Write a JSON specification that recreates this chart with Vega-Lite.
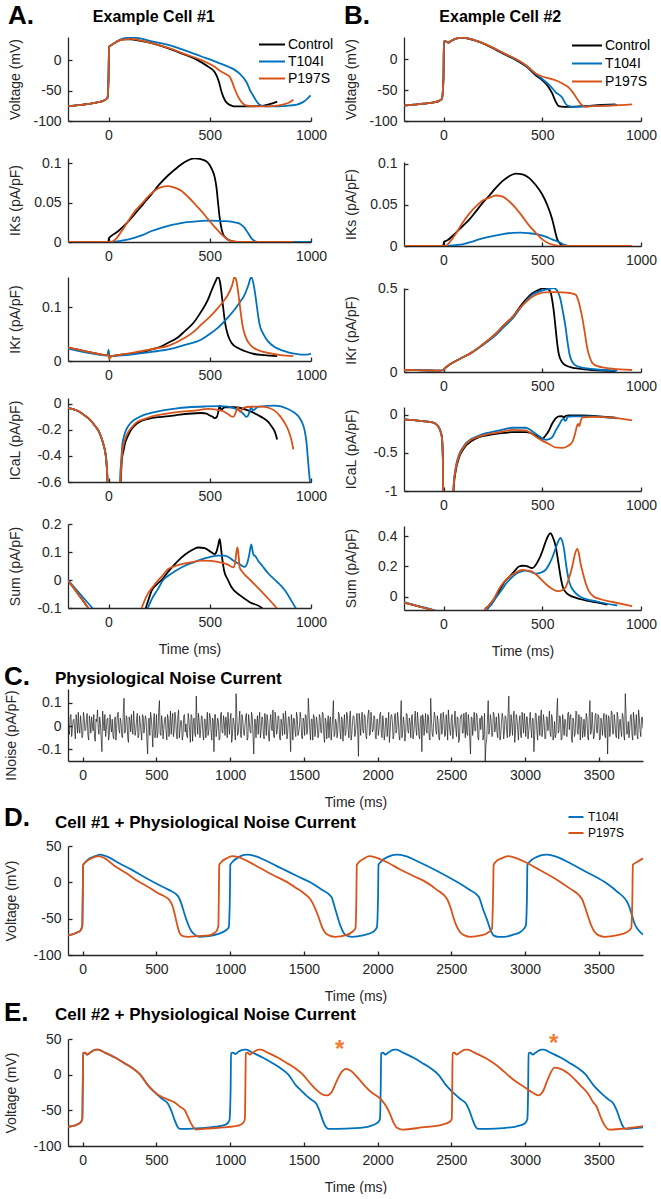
{
"$schema": "https://vega.github.io/schema/vega-lite/v6.json",
"padding": {"left": 4, "top": 3, "right": 4, "bottom": 0},
"config": {
  "font": "Liberation Sans",
  "view": {"stroke": null},
  "axis": {"grid": false, "domainColor": "#262626", "domainWidth": 1.3, "tickColor": "#262626", "tickWidth": 1.3, "tickSize": -4, "labelPadding": 11, "titlePadding": 13, "labelOverlap": false, "labelColor": "#262626", "labelFontSize": 14, "titleColor": "#262626", "titleFontSize": 14, "titleFontWeight": "normal"},
  "axisX": {"labelFlush": false},
  "title": {"color": "#000000", "fontWeight": "bold"},
  "legend": {"labelColor": "#000000", "labelFontSize": 14, "padding": 0}
},
"datasets": {
"a1": [
{"s":"Control","t":-200,"v":-76},{"s":"Control","t":-150,"v":-74},{"s":"Control","t":-100,"v":-72},{"s":"Control","t":-50,"v":-69},{"s":"Control","t":-20,"v":-66},{"s":"Control","t":-5,"v":-62},{"s":"Control","t":0,"v":-30},{"s":"Control","t":3,"v":22},{"s":"Control","t":10,"v":24},{"s":"Control","t":20,"v":26},{"s":"Control","t":30,"v":28},{"s":"Control","t":50,"v":32},{"s":"Control","t":80,"v":34},{"s":"Control","t":110,"v":34},{"s":"Control","t":150,"v":32},{"s":"Control","t":213,"v":28},{"s":"Control","t":300,"v":19},{"s":"Control","t":377,"v":9},{"s":"Control","t":440,"v":0},{"s":"Control","t":493,"v":-11},{"s":"Control","t":525,"v":-20},{"s":"Control","t":545,"v":-35},{"s":"Control","t":558,"v":-52},{"s":"Control","t":575,"v":-66},{"s":"Control","t":591,"v":-72},{"s":"Control","t":610,"v":-75},{"s":"Control","t":624,"v":-76},{"s":"Control","t":700,"v":-76},{"s":"Control","t":760,"v":-75},{"s":"Control","t":800,"v":-72},{"s":"Control","t":833,"v":-68},
{"s":"T104I","t":-200,"v":-76},{"s":"T104I","t":-150,"v":-74},{"s":"T104I","t":-100,"v":-72},{"s":"T104I","t":-50,"v":-69},{"s":"T104I","t":-20,"v":-66},{"s":"T104I","t":-5,"v":-62},{"s":"T104I","t":0,"v":-30},{"s":"T104I","t":3,"v":22},{"s":"T104I","t":10,"v":24},{"s":"T104I","t":20,"v":26},{"s":"T104I","t":30,"v":28},{"s":"T104I","t":50,"v":32},{"s":"T104I","t":80,"v":36},{"s":"T104I","t":110,"v":37},{"s":"T104I","t":150,"v":36},{"s":"T104I","t":213,"v":31},{"s":"T104I","t":295,"v":25},{"s":"T104I","t":377,"v":16},{"s":"T104I","t":459,"v":6},{"s":"T104I","t":540,"v":-4},{"s":"T104I","t":600,"v":-12},{"s":"T104I","t":623,"v":-16},{"s":"T104I","t":650,"v":-23},{"s":"T104I","t":681,"v":-36},{"s":"T104I","t":700,"v":-50},{"s":"T104I","t":714,"v":-58},{"s":"T104I","t":730,"v":-67},{"s":"T104I","t":745,"v":-73},{"s":"T104I","t":770,"v":-76},{"s":"T104I","t":800,"v":-76},{"s":"T104I","t":880,"v":-75},{"s":"T104I","t":930,"v":-73},{"s":"T104I","t":960,"v":-69},{"s":"T104I","t":980,"v":-64},{"s":"T104I","t":998,"v":-58},
{"s":"P197S","t":-200,"v":-76},{"s":"P197S","t":-150,"v":-74},{"s":"P197S","t":-100,"v":-72},{"s":"P197S","t":-50,"v":-69},{"s":"P197S","t":-20,"v":-66},{"s":"P197S","t":-5,"v":-62},{"s":"P197S","t":0,"v":-30},{"s":"P197S","t":3,"v":22},{"s":"P197S","t":10,"v":24},{"s":"P197S","t":20,"v":26},{"s":"P197S","t":30,"v":28},{"s":"P197S","t":50,"v":32},{"s":"P197S","t":80,"v":34},{"s":"P197S","t":110,"v":35},{"s":"P197S","t":150,"v":33},{"s":"P197S","t":213,"v":28},{"s":"P197S","t":295,"v":20},{"s":"P197S","t":377,"v":10},{"s":"P197S","t":459,"v":0},{"s":"P197S","t":520,"v":-10},{"s":"P197S","t":558,"v":-19},{"s":"P197S","t":585,"v":-24},{"s":"P197S","t":600,"v":-28},{"s":"P197S","t":612,"v":-37},{"s":"P197S","t":623,"v":-47},{"s":"P197S","t":640,"v":-60},{"s":"P197S","t":657,"v":-69},{"s":"P197S","t":675,"v":-74},{"s":"P197S","t":690,"v":-75},{"s":"P197S","t":750,"v":-76},{"s":"P197S","t":820,"v":-75},{"s":"P197S","t":860,"v":-73},{"s":"P197S","t":890,"v":-70},{"s":"P197S","t":913,"v":-65}
],
"a2": [
{"s":"Control","t":-200,"v":0},{"s":"Control","t":-1,"v":0},{"s":"Control","t":2,"v":0.005},{"s":"Control","t":10,"v":0.007},{"s":"Control","t":49,"v":0.014},{"s":"Control","t":90,"v":0.024},{"s":"Control","t":131,"v":0.036},{"s":"Control","t":170,"v":0.048},{"s":"Control","t":213,"v":0.061},{"s":"Control","t":250,"v":0.073},{"s":"Control","t":295,"v":0.085},{"s":"Control","t":340,"v":0.095},{"s":"Control","t":377,"v":0.102},{"s":"Control","t":426,"v":0.1065},{"s":"Control","t":475,"v":0.104},{"s":"Control","t":508,"v":0.094},{"s":"Control","t":525,"v":0.082},{"s":"Control","t":533,"v":0.07},{"s":"Control","t":541,"v":0.05},{"s":"Control","t":549,"v":0.031},{"s":"Control","t":558,"v":0.017},{"s":"Control","t":566,"v":0.0098},{"s":"Control","t":580,"v":0.005},{"s":"Control","t":598,"v":0.002},{"s":"Control","t":620,"v":0.0005},{"s":"Control","t":650,"v":0},{"s":"Control","t":833,"v":0},
{"s":"T104I","t":-200,"v":0},{"s":"T104I","t":20,"v":0},{"s":"T104I","t":60,"v":0.0015},{"s":"T104I","t":131,"v":0.0056},{"s":"T104I","t":170,"v":0.009},{"s":"T104I","t":213,"v":0.014},{"s":"T104I","t":250,"v":0.017},{"s":"T104I","t":295,"v":0.0206},{"s":"T104I","t":340,"v":0.023},{"s":"T104I","t":377,"v":0.0249},{"s":"T104I","t":420,"v":0.026},{"s":"T104I","t":459,"v":0.027},{"s":"T104I","t":500,"v":0.0272},{"s":"T104I","t":541,"v":0.027},{"s":"T104I","t":580,"v":0.0265},{"s":"T104I","t":623,"v":0.025},{"s":"T104I","t":650,"v":0.023},{"s":"T104I","t":672,"v":0.018},{"s":"T104I","t":690,"v":0.011},{"s":"T104I","t":705,"v":0.005},{"s":"T104I","t":720,"v":0.0015},{"s":"T104I","t":735,"v":0},{"s":"T104I","t":1000,"v":0},
{"s":"P197S","t":-200,"v":0},{"s":"P197S","t":10,"v":0},{"s":"P197S","t":33,"v":0.003},{"s":"P197S","t":60,"v":0.012},{"s":"P197S","t":98,"v":0.027},{"s":"P197S","t":130,"v":0.039},{"s":"P197S","t":164,"v":0.0486},{"s":"P197S","t":200,"v":0.059},{"s":"P197S","t":229,"v":0.0657},{"s":"P197S","t":260,"v":0.0698},{"s":"P197S","t":295,"v":0.0713},{"s":"P197S","t":330,"v":0.069},{"s":"P197S","t":361,"v":0.065},{"s":"P197S","t":395,"v":0.057},{"s":"P197S","t":426,"v":0.0486},{"s":"P197S","t":460,"v":0.039},{"s":"P197S","t":492,"v":0.029},{"s":"P197S","t":525,"v":0.019},{"s":"P197S","t":558,"v":0.0099},{"s":"P197S","t":585,"v":0.004},{"s":"P197S","t":607,"v":0.001},{"s":"P197S","t":640,"v":0},{"s":"P197S","t":913,"v":0}
],
"a3": [
{"s":"Control","t":-200,"v":0.025},{"s":"Control","t":-150,"v":0.021},{"s":"Control","t":-100,"v":0.017},{"s":"Control","t":-50,"v":0.013},{"s":"Control","t":-10,"v":0.011},{"s":"Control","t":-2,"v":0.011},{"s":"Control","t":0,"v":0.018},{"s":"Control","t":3,"v":0.006},{"s":"Control","t":10,"v":0.008},{"s":"Control","t":50,"v":0.011},{"s":"Control","t":100,"v":0.013},{"s":"Control","t":131,"v":0.015},{"s":"Control","t":180,"v":0.018},{"s":"Control","t":213,"v":0.0215},{"s":"Control","t":260,"v":0.027},{"s":"Control","t":295,"v":0.034},{"s":"Control","t":340,"v":0.043},{"s":"Control","t":377,"v":0.0555},{"s":"Control","t":420,"v":0.071},{"s":"Control","t":459,"v":0.0926},{"s":"Control","t":490,"v":0.113},{"s":"Control","t":508,"v":0.13},{"s":"Control","t":525,"v":0.145},{"s":"Control","t":541,"v":0.156},{"s":"Control","t":550,"v":0.148},{"s":"Control","t":557,"v":0.13},{"s":"Control","t":566,"v":0.1},{"s":"Control","t":577,"v":0.068},{"s":"Control","t":590,"v":0.048},{"s":"Control","t":607,"v":0.034},{"s":"Control","t":640,"v":0.024},{"s":"Control","t":672,"v":0.0185},{"s":"Control","t":720,"v":0.013},{"s":"Control","t":770,"v":0.011},{"s":"Control","t":833,"v":0.009},
{"s":"T104I","t":-200,"v":0.023},{"s":"T104I","t":-150,"v":0.019},{"s":"T104I","t":-100,"v":0.015},{"s":"T104I","t":-50,"v":0.012},{"s":"T104I","t":-10,"v":0.01},{"s":"T104I","t":-2,"v":0.01},{"s":"T104I","t":0,"v":0.021},{"s":"T104I","t":3,"v":0.008},{"s":"T104I","t":10,"v":0.009},{"s":"T104I","t":50,"v":0.01},{"s":"T104I","t":131,"v":0.013},{"s":"T104I","t":213,"v":0.017},{"s":"T104I","t":295,"v":0.0215},{"s":"T104I","t":377,"v":0.03},{"s":"T104I","t":459,"v":0.04},{"s":"T104I","t":500,"v":0.05},{"s":"T104I","t":541,"v":0.062},{"s":"T104I","t":580,"v":0.077},{"s":"T104I","t":623,"v":0.0956},{"s":"T104I","t":650,"v":0.11},{"s":"T104I","t":672,"v":0.123},{"s":"T104I","t":690,"v":0.14},{"s":"T104I","t":705,"v":0.156},{"s":"T104I","t":715,"v":0.145},{"s":"T104I","t":725,"v":0.123},{"s":"T104I","t":735,"v":0.095},{"s":"T104I","t":746,"v":0.068},{"s":"T104I","t":765,"v":0.05},{"s":"T104I","t":787,"v":0.037},{"s":"T104I","t":820,"v":0.026},{"s":"T104I","t":869,"v":0.0185},{"s":"T104I","t":910,"v":0.014},{"s":"T104I","t":951,"v":0.012},{"s":"T104I","t":980,"v":0.012},{"s":"T104I","t":1000,"v":0.014},
{"s":"P197S","t":-200,"v":0.025},{"s":"P197S","t":-150,"v":0.021},{"s":"P197S","t":-100,"v":0.017},{"s":"P197S","t":-50,"v":0.013},{"s":"P197S","t":-10,"v":0.011},{"s":"P197S","t":-2,"v":0.011},{"s":"P197S","t":0,"v":0.012},{"s":"P197S","t":3,"v":0.004},{"s":"P197S","t":10,"v":0.008},{"s":"P197S","t":50,"v":0.011},{"s":"P197S","t":131,"v":0.016},{"s":"P197S","t":213,"v":0.022},{"s":"P197S","t":295,"v":0.028},{"s":"P197S","t":377,"v":0.043},{"s":"P197S","t":420,"v":0.054},{"s":"P197S","t":459,"v":0.068},{"s":"P197S","t":500,"v":0.082},{"s":"P197S","t":541,"v":0.0987},{"s":"P197S","t":570,"v":0.112},{"s":"P197S","t":590,"v":0.123},{"s":"P197S","t":610,"v":0.14},{"s":"P197S","t":623,"v":0.156},{"s":"P197S","t":632,"v":0.148},{"s":"P197S","t":643,"v":0.12},{"s":"P197S","t":653,"v":0.09},{"s":"P197S","t":664,"v":0.062},{"s":"P197S","t":680,"v":0.042},{"s":"P197S","t":705,"v":0.028},{"s":"P197S","t":740,"v":0.02},{"s":"P197S","t":787,"v":0.015},{"s":"P197S","t":850,"v":0.011},{"s":"P197S","t":913,"v":0.009}
],
"a4": [
{"s":"Control","t":-200,"v":-0.031},{"s":"Control","t":-150,"v":-0.055},{"s":"Control","t":-115,"v":-0.092},{"s":"Control","t":-90,"v":-0.125},{"s":"Control","t":-66,"v":-0.17},{"s":"Control","t":-45,"v":-0.22},{"s":"Control","t":-33,"v":-0.27},{"s":"Control","t":-22,"v":-0.33},{"s":"Control","t":-16,"v":-0.37},{"s":"Control","t":-10,"v":-0.45},{"s":"Control","t":-5,"v":-0.6},{"s":"Control","t":-2,"v":-1},{"s":"Control","t":2,"v":-2},{"s":"Control","t":50,"v":-2},{"s":"Control","t":58,"v":-0.75},{"s":"Control","t":62,"v":-0.55},{"s":"Control","t":66,"v":-0.43},{"s":"Control","t":74,"v":-0.36},{"s":"Control","t":82,"v":-0.3},{"s":"Control","t":95,"v":-0.25},{"s":"Control","t":107,"v":-0.21},{"s":"Control","t":130,"v":-0.165},{"s":"Control","t":164,"v":-0.13},{"s":"Control","t":210,"v":-0.11},{"s":"Control","t":262,"v":-0.1},{"s":"Control","t":330,"v":-0.088},{"s":"Control","t":394,"v":-0.076},{"s":"Control","t":459,"v":-0.07},{"s":"Control","t":485,"v":-0.075},{"s":"Control","t":500,"v":-0.09},{"s":"Control","t":515,"v":-0.1},{"s":"Control","t":525,"v":-0.11},{"s":"Control","t":535,"v":-0.1},{"s":"Control","t":541,"v":-0.07},{"s":"Control","t":549,"v":-0.013},{"s":"Control","t":553,"v":-0.03},{"s":"Control","t":557,"v":-0.05},{"s":"Control","t":565,"v":-0.035},{"s":"Control","t":574,"v":-0.026},{"s":"Control","t":623,"v":-0.026},{"s":"Control","t":689,"v":-0.05},{"s":"Control","t":754,"v":-0.1},{"s":"Control","t":790,"v":-0.14},{"s":"Control","t":804,"v":-0.17},{"s":"Control","t":820,"v":-0.21},{"s":"Control","t":833,"v":-0.274},
{"s":"T104I","t":-200,"v":-0.031},{"s":"T104I","t":-150,"v":-0.055},{"s":"T104I","t":-115,"v":-0.092},{"s":"T104I","t":-90,"v":-0.125},{"s":"T104I","t":-66,"v":-0.17},{"s":"T104I","t":-45,"v":-0.22},{"s":"T104I","t":-33,"v":-0.27},{"s":"T104I","t":-22,"v":-0.33},{"s":"T104I","t":-16,"v":-0.37},{"s":"T104I","t":-10,"v":-0.45},{"s":"T104I","t":-5,"v":-0.6},{"s":"T104I","t":-2,"v":-1},{"s":"T104I","t":2,"v":-2},{"s":"T104I","t":48,"v":-2},{"s":"T104I","t":55,"v":-0.75},{"s":"T104I","t":58,"v":-0.55},{"s":"T104I","t":62,"v":-0.46},{"s":"T104I","t":68,"v":-0.32},{"s":"T104I","t":80,"v":-0.23},{"s":"T104I","t":98,"v":-0.17},{"s":"T104I","t":130,"v":-0.12},{"s":"T104I","t":164,"v":-0.092},{"s":"T104I","t":210,"v":-0.07},{"s":"T104I","t":262,"v":-0.052},{"s":"T104I","t":330,"v":-0.036},{"s":"T104I","t":394,"v":-0.026},{"s":"T104I","t":480,"v":-0.02},{"s":"T104I","t":557,"v":-0.018},{"s":"T104I","t":623,"v":-0.034},{"s":"T104I","t":650,"v":-0.055},{"s":"T104I","t":665,"v":-0.075},{"s":"T104I","t":681,"v":-0.1},{"s":"T104I","t":692,"v":-0.08},{"s":"T104I","t":700,"v":-0.04},{"s":"T104I","t":705,"v":-0.026},{"s":"T104I","t":712,"v":-0.05},{"s":"T104I","t":720,"v":-0.045},{"s":"T104I","t":735,"v":-0.025},{"s":"T104I","t":746,"v":-0.021},{"s":"T104I","t":820,"v":-0.013},{"s":"T104I","t":886,"v":-0.039},{"s":"T104I","t":915,"v":-0.065},{"s":"T104I","t":935,"v":-0.09},{"s":"T104I","t":955,"v":-0.14},{"s":"T104I","t":968,"v":-0.2},{"s":"T104I","t":978,"v":-0.3},{"s":"T104I","t":984,"v":-0.41},{"s":"T104I","t":990,"v":-0.52},{"s":"T104I","t":995,"v":-0.6},
{"s":"P197S","t":-200,"v":-0.031},{"s":"P197S","t":-150,"v":-0.055},{"s":"P197S","t":-115,"v":-0.092},{"s":"P197S","t":-90,"v":-0.125},{"s":"P197S","t":-66,"v":-0.17},{"s":"P197S","t":-45,"v":-0.22},{"s":"P197S","t":-33,"v":-0.27},{"s":"P197S","t":-22,"v":-0.33},{"s":"P197S","t":-16,"v":-0.37},{"s":"P197S","t":-10,"v":-0.45},{"s":"P197S","t":-5,"v":-0.6},{"s":"P197S","t":-2,"v":-1},{"s":"P197S","t":2,"v":-2},{"s":"P197S","t":50,"v":-2},{"s":"P197S","t":57,"v":-0.75},{"s":"P197S","t":61,"v":-0.55},{"s":"P197S","t":66,"v":-0.4},{"s":"P197S","t":82,"v":-0.27},{"s":"P197S","t":100,"v":-0.21},{"s":"P197S","t":115,"v":-0.18},{"s":"P197S","t":140,"v":-0.14},{"s":"P197S","t":180,"v":-0.115},{"s":"P197S","t":230,"v":-0.09},{"s":"P197S","t":295,"v":-0.073},{"s":"P197S","t":360,"v":-0.06},{"s":"P197S","t":426,"v":-0.052},{"s":"P197S","t":492,"v":-0.039},{"s":"P197S","t":558,"v":-0.052},{"s":"P197S","t":590,"v":-0.078},{"s":"P197S","t":605,"v":-0.095},{"s":"P197S","t":615,"v":-0.1},{"s":"P197S","t":625,"v":-0.08},{"s":"P197S","t":635,"v":-0.035},{"s":"P197S","t":640,"v":-0.026},{"s":"P197S","t":645,"v":-0.05},{"s":"P197S","t":650,"v":-0.062},{"s":"P197S","t":660,"v":-0.04},{"s":"P197S","t":670,"v":-0.028},{"s":"P197S","t":700,"v":-0.022},{"s":"P197S","t":754,"v":-0.021},{"s":"P197S","t":790,"v":-0.03},{"s":"P197S","t":820,"v":-0.052},{"s":"P197S","t":850,"v":-0.1},{"s":"P197S","t":869,"v":-0.143},{"s":"P197S","t":890,"v":-0.21},{"s":"P197S","t":902,"v":-0.27},{"s":"P197S","t":913,"v":-0.35}
],
"a5": [
{"s":"Control","t":-200,"v":-0.003},{"s":"Control","t":-170,"v":-0.03},{"s":"Control","t":-140,"v":-0.06},{"s":"Control","t":-110,"v":-0.09},{"s":"Control","t":-95,"v":-0.105},{"s":"Control","t":-70,"v":-0.13},{"s":"Control","t":-40,"v":-0.5},{"s":"Control","t":130,"v":-0.5},{"s":"Control","t":160,"v":-0.14},{"s":"Control","t":184,"v":-0.1},{"s":"Control","t":200,"v":-0.065},{"s":"Control","t":213,"v":-0.038},{"s":"Control","t":240,"v":-0.015},{"s":"Control","t":262,"v":0},{"s":"Control","t":295,"v":0.03},{"s":"Control","t":328,"v":0.057},{"s":"Control","t":360,"v":0.08},{"s":"Control","t":394,"v":0.099},{"s":"Control","t":420,"v":0.11},{"s":"Control","t":443,"v":0.116},{"s":"Control","t":475,"v":0.114},{"s":"Control","t":508,"v":0.099},{"s":"Control","t":525,"v":0.093},{"s":"Control","t":535,"v":0.105},{"s":"Control","t":541,"v":0.122},{"s":"Control","t":549,"v":0.146},{"s":"Control","t":553,"v":0.13},{"s":"Control","t":557,"v":0.105},{"s":"Control","t":563,"v":0.07},{"s":"Control","t":571,"v":0.033},{"s":"Control","t":590,"v":0},{"s":"Control","t":607,"v":-0.025},{"s":"Control","t":650,"v":-0.055},{"s":"Control","t":700,"v":-0.08},{"s":"Control","t":757,"v":-0.1},{"s":"Control","t":780,"v":-0.12},
{"s":"T104I","t":-200,"v":0},{"s":"T104I","t":-170,"v":-0.025},{"s":"T104I","t":-140,"v":-0.05},{"s":"T104I","t":-110,"v":-0.075},{"s":"T104I","t":-80,"v":-0.1},{"s":"T104I","t":-60,"v":-0.12},{"s":"T104I","t":-30,"v":-0.5},{"s":"T104I","t":140,"v":-0.5},{"s":"T104I","t":175,"v":-0.13},{"s":"T104I","t":194,"v":-0.1},{"s":"T104I","t":220,"v":-0.06},{"s":"T104I","t":246,"v":-0.03},{"s":"T104I","t":270,"v":0},{"s":"T104I","t":295,"v":0.015},{"s":"T104I","t":330,"v":0.032},{"s":"T104I","t":377,"v":0.051},{"s":"T104I","t":420,"v":0.063},{"s":"T104I","t":459,"v":0.074},{"s":"T104I","t":500,"v":0.082},{"s":"T104I","t":541,"v":0.087},{"s":"T104I","t":570,"v":0.087},{"s":"T104I","t":590,"v":0.083},{"s":"T104I","t":623,"v":0.066},{"s":"T104I","t":650,"v":0.055},{"s":"T104I","t":672,"v":0.047},{"s":"T104I","t":685,"v":0.06},{"s":"T104I","t":695,"v":0.09},{"s":"T104I","t":705,"v":0.127},{"s":"T104I","t":710,"v":0.11},{"s":"T104I","t":716,"v":0.09},{"s":"T104I","t":725,"v":0.085},{"s":"T104I","t":738,"v":0.07},{"s":"T104I","t":760,"v":0.05},{"s":"T104I","t":787,"v":0.025},{"s":"T104I","t":830,"v":-0.005},{"s":"T104I","t":869,"v":-0.035},{"s":"T104I","t":900,"v":-0.07},{"s":"T104I","t":924,"v":-0.1},{"s":"T104I","t":950,"v":-0.13},
{"s":"P197S","t":-200,"v":-0.003},{"s":"P197S","t":-170,"v":-0.03},{"s":"P197S","t":-140,"v":-0.06},{"s":"P197S","t":-110,"v":-0.09},{"s":"P197S","t":-95,"v":-0.105},{"s":"P197S","t":-70,"v":-0.13},{"s":"P197S","t":-40,"v":-0.5},{"s":"P197S","t":120,"v":-0.5},{"s":"P197S","t":150,"v":-0.13},{"s":"P197S","t":164,"v":-0.1},{"s":"P197S","t":190,"v":-0.055},{"s":"P197S","t":213,"v":-0.03},{"s":"P197S","t":229,"v":-0.015},{"s":"P197S","t":260,"v":0.01},{"s":"P197S","t":295,"v":0.039},{"s":"P197S","t":330,"v":0.05},{"s":"P197S","t":377,"v":0.059},{"s":"P197S","t":420,"v":0.065},{"s":"P197S","t":459,"v":0.069},{"s":"P197S","t":508,"v":0.068},{"s":"P197S","t":550,"v":0.063},{"s":"P197S","t":590,"v":0.055},{"s":"P197S","t":615,"v":0.045},{"s":"P197S","t":625,"v":0.06},{"s":"P197S","t":632,"v":0.1},{"s":"P197S","t":637,"v":0.116},{"s":"P197S","t":642,"v":0.09},{"s":"P197S","t":648,"v":0.045},{"s":"P197S","t":660,"v":0.03},{"s":"P197S","t":700,"v":0},{"s":"P197S","t":754,"v":-0.04},{"s":"P197S","t":800,"v":-0.075},{"s":"P197S","t":830,"v":-0.1},{"s":"P197S","t":860,"v":-0.125}
],
"b1": [
{"s":"Control","t":-200,"v":-75},{"s":"Control","t":-150,"v":-73.5},{"s":"Control","t":-100,"v":-72},{"s":"Control","t":-50,"v":-70},{"s":"Control","t":-20,"v":-67},{"s":"Control","t":-8,"v":-64},{"s":"Control","t":0,"v":-30},{"s":"Control","t":2,"v":29},{"s":"Control","t":10,"v":29},{"s":"Control","t":20,"v":28},{"s":"Control","t":25,"v":27},{"s":"Control","t":40,"v":30},{"s":"Control","t":60,"v":33},{"s":"Control","t":96,"v":35},{"s":"Control","t":130,"v":33},{"s":"Control","t":180,"v":28},{"s":"Control","t":264,"v":15.5},{"s":"Control","t":320,"v":6},{"s":"Control","t":366,"v":-1},{"s":"Control","t":420,"v":-12},{"s":"Control","t":467,"v":-26},{"s":"Control","t":500,"v":-34},{"s":"Control","t":534,"v":-46},{"s":"Control","t":550,"v":-55},{"s":"Control","t":567,"v":-68},{"s":"Control","t":584,"v":-76},{"s":"Control","t":610,"v":-77},{"s":"Control","t":700,"v":-76},{"s":"Control","t":800,"v":-74},{"s":"Control","t":871,"v":-73},
{"s":"T104I","t":-200,"v":-75},{"s":"T104I","t":-150,"v":-73.5},{"s":"T104I","t":-100,"v":-72},{"s":"T104I","t":-50,"v":-70},{"s":"T104I","t":-20,"v":-67},{"s":"T104I","t":-8,"v":-64},{"s":"T104I","t":0,"v":-30},{"s":"T104I","t":2,"v":29},{"s":"T104I","t":10,"v":29},{"s":"T104I","t":20,"v":28},{"s":"T104I","t":25,"v":27},{"s":"T104I","t":40,"v":30},{"s":"T104I","t":60,"v":33},{"s":"T104I","t":96,"v":35},{"s":"T104I","t":130,"v":33.5},{"s":"T104I","t":180,"v":28.5},{"s":"T104I","t":264,"v":16.5},{"s":"T104I","t":320,"v":7},{"s":"T104I","t":366,"v":0},{"s":"T104I","t":420,"v":-11},{"s":"T104I","t":467,"v":-24},{"s":"T104I","t":500,"v":-32},{"s":"T104I","t":534,"v":-41},{"s":"T104I","t":570,"v":-54},{"s":"T104I","t":601,"v":-62},{"s":"T104I","t":618,"v":-72},{"s":"T104I","t":635,"v":-76},{"s":"T104I","t":660,"v":-77},{"s":"T104I","t":750,"v":-76},{"s":"T104I","t":880,"v":-74},
{"s":"P197S","t":-200,"v":-75},{"s":"P197S","t":-150,"v":-73.5},{"s":"P197S","t":-100,"v":-72},{"s":"P197S","t":-50,"v":-70},{"s":"P197S","t":-20,"v":-67},{"s":"P197S","t":-8,"v":-64},{"s":"P197S","t":0,"v":-30},{"s":"P197S","t":2,"v":29},{"s":"P197S","t":10,"v":29},{"s":"P197S","t":20,"v":28},{"s":"P197S","t":25,"v":27},{"s":"P197S","t":40,"v":30},{"s":"P197S","t":60,"v":33},{"s":"P197S","t":96,"v":35},{"s":"P197S","t":130,"v":33.5},{"s":"P197S","t":180,"v":28.5},{"s":"P197S","t":264,"v":16.5},{"s":"P197S","t":320,"v":7.5},{"s":"P197S","t":366,"v":0.5},{"s":"P197S","t":420,"v":-10},{"s":"P197S","t":467,"v":-23},{"s":"P197S","t":500,"v":-28},{"s":"P197S","t":534,"v":-31},{"s":"P197S","t":567,"v":-34},{"s":"P197S","t":600,"v":-39},{"s":"P197S","t":635,"v":-46},{"s":"P197S","t":660,"v":-56},{"s":"P197S","t":685,"v":-68},{"s":"P197S","t":700,"v":-74},{"s":"P197S","t":718,"v":-77},{"s":"P197S","t":760,"v":-76},{"s":"P197S","t":850,"v":-75},{"s":"P197S","t":955,"v":-73}
],
"b2": [
{"s":"Control","t":-200,"v":0},{"s":"Control","t":-1,"v":0},{"s":"Control","t":2,"v":0.005},{"s":"Control","t":20,"v":0.007},{"s":"Control","t":62,"v":0.016},{"s":"Control","t":96,"v":0.024},{"s":"Control","t":130,"v":0.032},{"s":"Control","t":164,"v":0.042},{"s":"Control","t":197,"v":0.052},{"s":"Control","t":231,"v":0.061},{"s":"Control","t":265,"v":0.0706},{"s":"Control","t":300,"v":0.079},{"s":"Control","t":332,"v":0.0847},{"s":"Control","t":366,"v":0.0879},{"s":"Control","t":400,"v":0.087},{"s":"Control","t":433,"v":0.0827},{"s":"Control","t":467,"v":0.074},{"s":"Control","t":500,"v":0.0625},{"s":"Control","t":525,"v":0.05},{"s":"Control","t":551,"v":0.032},{"s":"Control","t":565,"v":0.018},{"s":"Control","t":576,"v":0.008},{"s":"Control","t":590,"v":0.003},{"s":"Control","t":601,"v":0.001},{"s":"Control","t":630,"v":0},{"s":"Control","t":871,"v":0},
{"s":"T104I","t":-200,"v":0},{"s":"T104I","t":20,"v":0},{"s":"T104I","t":60,"v":0.001},{"s":"T104I","t":96,"v":0.002},{"s":"T104I","t":140,"v":0.005},{"s":"T104I","t":180,"v":0.008},{"s":"T104I","t":230,"v":0.011},{"s":"T104I","t":265,"v":0.0128},{"s":"T104I","t":300,"v":0.0145},{"s":"T104I","t":349,"v":0.016},{"s":"T104I","t":390,"v":0.0163},{"s":"T104I","t":433,"v":0.0155},{"s":"T104I","t":475,"v":0.014},{"s":"T104I","t":517,"v":0.0113},{"s":"T104I","t":550,"v":0.008},{"s":"T104I","t":584,"v":0.005},{"s":"T104I","t":605,"v":0.002},{"s":"T104I","t":625,"v":0.0005},{"s":"T104I","t":650,"v":0},{"s":"T104I","t":880,"v":0},
{"s":"P197S","t":-200,"v":0},{"s":"P197S","t":10,"v":0},{"s":"P197S","t":29,"v":0.004},{"s":"P197S","t":60,"v":0.014},{"s":"P197S","t":96,"v":0.028},{"s":"P197S","t":130,"v":0.039},{"s":"P197S","t":164,"v":0.048},{"s":"P197S","t":197,"v":0.055},{"s":"P197S","t":231,"v":0.0585},{"s":"P197S","t":265,"v":0.0613},{"s":"P197S","t":300,"v":0.06},{"s":"P197S","t":332,"v":0.0544},{"s":"P197S","t":366,"v":0.046},{"s":"P197S","t":399,"v":0.036},{"s":"P197S","t":433,"v":0.025},{"s":"P197S","t":467,"v":0.016},{"s":"P197S","t":500,"v":0.008},{"s":"P197S","t":534,"v":0.003},{"s":"P197S","t":560,"v":0.001},{"s":"P197S","t":590,"v":0},{"s":"P197S","t":955,"v":0}
],
"b3": [
{"s":"Control","t":-200,"v":0.012},{"s":"Control","t":-100,"v":0.01},{"s":"Control","t":-20,"v":0.008},{"s":"Control","t":0,"v":0.012},{"s":"Control","t":5,"v":0.02},{"s":"Control","t":29,"v":0.043},{"s":"Control","t":60,"v":0.065},{"s":"Control","t":96,"v":0.087},{"s":"Control","t":140,"v":0.115},{"s":"Control","t":180,"v":0.148},{"s":"Control","t":220,"v":0.185},{"s":"Control","t":265,"v":0.23},{"s":"Control","t":305,"v":0.28},{"s":"Control","t":349,"v":0.33},{"s":"Control","t":399,"v":0.41},{"s":"Control","t":450,"v":0.473},{"s":"Control","t":480,"v":0.492},{"s":"Control","t":509,"v":0.504},{"s":"Control","t":530,"v":0.497},{"s":"Control","t":542,"v":0.48},{"s":"Control","t":552,"v":0.42},{"s":"Control","t":560,"v":0.35},{"s":"Control","t":567,"v":0.27},{"s":"Control","t":575,"v":0.18},{"s":"Control","t":584,"v":0.107},{"s":"Control","t":600,"v":0.06},{"s":"Control","t":618,"v":0.04},{"s":"Control","t":650,"v":0.027},{"s":"Control","t":685,"v":0.02},{"s":"Control","t":750,"v":0.012},{"s":"Control","t":871,"v":0.006},
{"s":"T104I","t":-200,"v":0.012},{"s":"T104I","t":-100,"v":0.01},{"s":"T104I","t":-20,"v":0.008},{"s":"T104I","t":0,"v":0.012},{"s":"T104I","t":5,"v":0.02},{"s":"T104I","t":29,"v":0.043},{"s":"T104I","t":60,"v":0.065},{"s":"T104I","t":96,"v":0.087},{"s":"T104I","t":140,"v":0.113},{"s":"T104I","t":180,"v":0.145},{"s":"T104I","t":220,"v":0.18},{"s":"T104I","t":265,"v":0.222},{"s":"T104I","t":305,"v":0.27},{"s":"T104I","t":349,"v":0.32},{"s":"T104I","t":399,"v":0.4},{"s":"T104I","t":450,"v":0.465},{"s":"T104I","t":517,"v":0.495},{"s":"T104I","t":545,"v":0.502},{"s":"T104I","t":559,"v":0.504},{"s":"T104I","t":575,"v":0.49},{"s":"T104I","t":593,"v":0.433},{"s":"T104I","t":605,"v":0.36},{"s":"T104I","t":618,"v":0.27},{"s":"T104I","t":628,"v":0.18},{"s":"T104I","t":638,"v":0.107},{"s":"T104I","t":650,"v":0.065},{"s":"T104I","t":668,"v":0.04},{"s":"T104I","t":700,"v":0.027},{"s":"T104I","t":750,"v":0.018},{"s":"T104I","t":880,"v":0.008},
{"s":"P197S","t":-200,"v":0.012},{"s":"P197S","t":-100,"v":0.01},{"s":"P197S","t":-20,"v":0.008},{"s":"P197S","t":0,"v":0.012},{"s":"P197S","t":5,"v":0.02},{"s":"P197S","t":29,"v":0.043},{"s":"P197S","t":60,"v":0.065},{"s":"P197S","t":96,"v":0.087},{"s":"P197S","t":140,"v":0.115},{"s":"P197S","t":180,"v":0.148},{"s":"P197S","t":220,"v":0.185},{"s":"P197S","t":265,"v":0.23},{"s":"P197S","t":305,"v":0.28},{"s":"P197S","t":349,"v":0.33},{"s":"P197S","t":399,"v":0.4},{"s":"P197S","t":450,"v":0.453},{"s":"P197S","t":517,"v":0.479},{"s":"P197S","t":560,"v":0.48},{"s":"P197S","t":601,"v":0.479},{"s":"P197S","t":640,"v":0.475},{"s":"P197S","t":669,"v":0.465},{"s":"P197S","t":685,"v":0.42},{"s":"P197S","t":702,"v":0.33},{"s":"P197S","t":715,"v":0.24},{"s":"P197S","t":727,"v":0.148},{"s":"P197S","t":740,"v":0.09},{"s":"P197S","t":753,"v":0.055},{"s":"P197S","t":780,"v":0.035},{"s":"P197S","t":854,"v":0.02},{"s":"P197S","t":955,"v":0.012}
],
"b4": [
{"s":"Control","t":-200,"v":-0.062},{"s":"Control","t":-150,"v":-0.072},{"s":"Control","t":-106,"v":-0.084},{"s":"Control","t":-56,"v":-0.1},{"s":"Control","t":-35,"v":-0.13},{"s":"Control","t":-22,"v":-0.176},{"s":"Control","t":-15,"v":-0.22},{"s":"Control","t":-8,"v":-0.3},{"s":"Control","t":-3,"v":-0.6},{"s":"Control","t":0,"v":-1.5},{"s":"Control","t":3,"v":-3},{"s":"Control","t":45,"v":-3},{"s":"Control","t":48,"v":-1.2},{"s":"Control","t":52,"v":-0.95},{"s":"Control","t":62,"v":-0.735},{"s":"Control","t":79,"v":-0.56},{"s":"Control","t":96,"v":-0.47},{"s":"Control","t":113,"v":-0.405},{"s":"Control","t":140,"v":-0.35},{"s":"Control","t":180,"v":-0.295},{"s":"Control","t":220,"v":-0.27},{"s":"Control","t":265,"v":-0.251},{"s":"Control","t":310,"v":-0.238},{"s":"Control","t":349,"v":-0.229},{"s":"Control","t":416,"v":-0.229},{"s":"Control","t":440,"v":-0.24},{"s":"Control","t":467,"v":-0.273},{"s":"Control","t":500,"v":-0.317},{"s":"Control","t":515,"v":-0.28},{"s":"Control","t":534,"v":-0.207},{"s":"Control","t":550,"v":-0.12},{"s":"Control","t":567,"v":-0.053},{"s":"Control","t":584,"v":-0.022},{"s":"Control","t":600,"v":-0.02},{"s":"Control","t":610,"v":-0.04},{"s":"Control","t":618,"v":-0.015},{"s":"Control","t":635,"v":-0.009},{"s":"Control","t":700,"v":-0.01},{"s":"Control","t":820,"v":-0.03},{"s":"Control","t":871,"v":-0.04},
{"s":"T104I","t":-200,"v":-0.062},{"s":"T104I","t":-150,"v":-0.072},{"s":"T104I","t":-106,"v":-0.084},{"s":"T104I","t":-56,"v":-0.1},{"s":"T104I","t":-35,"v":-0.13},{"s":"T104I","t":-22,"v":-0.176},{"s":"T104I","t":-15,"v":-0.22},{"s":"T104I","t":-8,"v":-0.3},{"s":"T104I","t":-3,"v":-0.6},{"s":"T104I","t":0,"v":-1.5},{"s":"T104I","t":3,"v":-3},{"s":"T104I","t":45,"v":-3},{"s":"T104I","t":48,"v":-1.2},{"s":"T104I","t":52,"v":-0.9},{"s":"T104I","t":62,"v":-0.69},{"s":"T104I","t":79,"v":-0.52},{"s":"T104I","t":96,"v":-0.44},{"s":"T104I","t":113,"v":-0.375},{"s":"T104I","t":140,"v":-0.32},{"s":"T104I","t":180,"v":-0.273},{"s":"T104I","t":220,"v":-0.24},{"s":"T104I","t":265,"v":-0.216},{"s":"T104I","t":310,"v":-0.19},{"s":"T104I","t":349,"v":-0.172},{"s":"T104I","t":416,"v":-0.172},{"s":"T104I","t":440,"v":-0.2},{"s":"T104I","t":467,"v":-0.25},{"s":"T104I","t":500,"v":-0.31},{"s":"T104I","t":517,"v":-0.33},{"s":"T104I","t":535,"v":-0.32},{"s":"T104I","t":551,"v":-0.295},{"s":"T104I","t":570,"v":-0.2},{"s":"T104I","t":584,"v":-0.14},{"s":"T104I","t":600,"v":-0.07},{"s":"T104I","t":609,"v":-0.053},{"s":"T104I","t":615,"v":-0.08},{"s":"T104I","t":621,"v":-0.075},{"s":"T104I","t":628,"v":-0.03},{"s":"T104I","t":650,"v":-0.022},{"s":"T104I","t":753,"v":-0.022},{"s":"T104I","t":820,"v":-0.035},{"s":"T104I","t":880,"v":-0.05},
{"s":"P197S","t":-200,"v":-0.062},{"s":"P197S","t":-150,"v":-0.072},{"s":"P197S","t":-106,"v":-0.084},{"s":"P197S","t":-56,"v":-0.1},{"s":"P197S","t":-35,"v":-0.13},{"s":"P197S","t":-22,"v":-0.176},{"s":"P197S","t":-15,"v":-0.22},{"s":"P197S","t":-8,"v":-0.3},{"s":"P197S","t":-3,"v":-0.6},{"s":"P197S","t":0,"v":-1.5},{"s":"P197S","t":3,"v":-3},{"s":"P197S","t":45,"v":-3},{"s":"P197S","t":48,"v":-1.2},{"s":"P197S","t":52,"v":-0.92},{"s":"P197S","t":62,"v":-0.71},{"s":"P197S","t":79,"v":-0.54},{"s":"P197S","t":96,"v":-0.45},{"s":"P197S","t":113,"v":-0.39},{"s":"P197S","t":140,"v":-0.33},{"s":"P197S","t":180,"v":-0.287},{"s":"P197S","t":220,"v":-0.26},{"s":"P197S","t":265,"v":-0.238},{"s":"P197S","t":310,"v":-0.215},{"s":"P197S","t":349,"v":-0.2},{"s":"P197S","t":416,"v":-0.207},{"s":"P197S","t":440,"v":-0.24},{"s":"P197S","t":467,"v":-0.287},{"s":"P197S","t":500,"v":-0.34},{"s":"P197S","t":534,"v":-0.384},{"s":"P197S","t":567,"v":-0.43},{"s":"P197S","t":601,"v":-0.436},{"s":"P197S","t":630,"v":-0.41},{"s":"P197S","t":652,"v":-0.36},{"s":"P197S","t":665,"v":-0.26},{"s":"P197S","t":677,"v":-0.14},{"s":"P197S","t":682,"v":-0.12},{"s":"P197S","t":688,"v":-0.15},{"s":"P197S","t":695,"v":-0.08},{"s":"P197S","t":705,"v":-0.035},{"s":"P197S","t":760,"v":-0.03},{"s":"P197S","t":854,"v":-0.04},{"s":"P197S","t":955,"v":-0.075}
],
"b5": [
{"s":"Control","t":-200,"v":-0.04},{"s":"Control","t":-150,"v":-0.058},{"s":"Control","t":-100,"v":-0.075},{"s":"Control","t":-50,"v":-0.092},{"s":"Control","t":-20,"v":-0.11},{"s":"Control","t":0,"v":-0.5},{"s":"Control","t":180,"v":-0.5},{"s":"Control","t":205,"v":-0.1},{"s":"Control","t":230,"v":-0.06},{"s":"Control","t":255,"v":-0.02},{"s":"Control","t":281,"v":0.036},{"s":"Control","t":305,"v":0.09},{"s":"Control","t":332,"v":0.13},{"s":"Control","t":360,"v":0.17},{"s":"Control","t":382,"v":0.2},{"s":"Control","t":400,"v":0.205},{"s":"Control","t":416,"v":0.204},{"s":"Control","t":435,"v":0.195},{"s":"Control","t":450,"v":0.189},{"s":"Control","t":467,"v":0.21},{"s":"Control","t":483,"v":0.247},{"s":"Control","t":500,"v":0.3},{"s":"Control","t":517,"v":0.365},{"s":"Control","t":530,"v":0.405},{"s":"Control","t":542,"v":0.423},{"s":"Control","t":552,"v":0.4},{"s":"Control","t":567,"v":0.34},{"s":"Control","t":580,"v":0.24},{"s":"Control","t":593,"v":0.13},{"s":"Control","t":605,"v":0.06},{"s":"Control","t":625,"v":0.02},{"s":"Control","t":700,"v":-0.02},{"s":"Control","t":800,"v":-0.045},{"s":"Control","t":830,"v":-0.055},
{"s":"T104I","t":-200,"v":-0.038},{"s":"T104I","t":-150,"v":-0.056},{"s":"T104I","t":-100,"v":-0.073},{"s":"T104I","t":-50,"v":-0.09},{"s":"T104I","t":-20,"v":-0.11},{"s":"T104I","t":0,"v":-0.5},{"s":"T104I","t":190,"v":-0.5},{"s":"T104I","t":218,"v":-0.1},{"s":"T104I","t":245,"v":-0.05},{"s":"T104I","t":270,"v":0},{"s":"T104I","t":298,"v":0.05},{"s":"T104I","t":315,"v":0.083},{"s":"T104I","t":340,"v":0.12},{"s":"T104I","t":366,"v":0.15},{"s":"T104I","t":390,"v":0.165},{"s":"T104I","t":416,"v":0.172},{"s":"T104I","t":440,"v":0.165},{"s":"T104I","t":467,"v":0.153},{"s":"T104I","t":490,"v":0.158},{"s":"T104I","t":517,"v":0.177},{"s":"T104I","t":535,"v":0.215},{"s":"T104I","t":551,"v":0.26},{"s":"T104I","t":570,"v":0.33},{"s":"T104I","t":584,"v":0.376},{"s":"T104I","t":593,"v":0.39},{"s":"T104I","t":600,"v":0.375},{"s":"T104I","t":610,"v":0.318},{"s":"T104I","t":622,"v":0.2},{"s":"T104I","t":635,"v":0.106},{"s":"T104I","t":648,"v":0.06},{"s":"T104I","t":660,"v":0.036},{"s":"T104I","t":690,"v":0},{"s":"T104I","t":780,"v":-0.035},{"s":"T104I","t":880,"v":-0.06},
{"s":"P197S","t":-200,"v":-0.04},{"s":"P197S","t":-150,"v":-0.058},{"s":"P197S","t":-100,"v":-0.075},{"s":"P197S","t":-50,"v":-0.092},{"s":"P197S","t":-20,"v":-0.11},{"s":"P197S","t":0,"v":-0.5},{"s":"P197S","t":180,"v":-0.5},{"s":"P197S","t":205,"v":-0.1},{"s":"P197S","t":230,"v":-0.06},{"s":"P197S","t":255,"v":-0.015},{"s":"P197S","t":281,"v":0.05},{"s":"P197S","t":305,"v":0.095},{"s":"P197S","t":332,"v":0.13},{"s":"P197S","t":366,"v":0.16},{"s":"P197S","t":399,"v":0.177},{"s":"P197S","t":425,"v":0.173},{"s":"P197S","t":450,"v":0.165},{"s":"P197S","t":475,"v":0.14},{"s":"P197S","t":500,"v":0.106},{"s":"P197S","t":525,"v":0.075},{"s":"P197S","t":551,"v":0.05},{"s":"P197S","t":570,"v":0.038},{"s":"P197S","t":584,"v":0.036},{"s":"P197S","t":600,"v":0.042},{"s":"P197S","t":618,"v":0.06},{"s":"P197S","t":635,"v":0.12},{"s":"P197S","t":652,"v":0.2},{"s":"P197S","t":665,"v":0.28},{"s":"P197S","t":677,"v":0.318},{"s":"P197S","t":685,"v":0.29},{"s":"P197S","t":694,"v":0.22},{"s":"P197S","t":703,"v":0.17},{"s":"P197S","t":711,"v":0.13},{"s":"P197S","t":722,"v":0.08},{"s":"P197S","t":736,"v":0.036},{"s":"P197S","t":760,"v":0},{"s":"P197S","t":800,"v":-0.02},{"s":"P197S","t":850,"v":-0.035},{"s":"P197S","t":955,"v":-0.065}
],
"noise": [
{"t":-100,"v":0.015},{"t":-90,"v":-0.035},{"t":-80,"v":0.05},{"t":-70,"v":-0.01},{"t":-60,"v":0.03},{"t":-50,"v":-0.055},{"t":-40,"v":0.02},{"t":-30,"v":0.06},{"t":-20,"v":-0.03},{"t":-10,"v":0.01},
{"t":0,"v":-0.04},{"t":10,"v":0.035},{"t":20,"v":-0.015},{"t":30,"v":0.055},{"t":40,"v":-0.06},{"t":50,"v":0.015},{"t":60,"v":0.04},{"t":70,"v":-0.02},{"t":80,"v":-0.05},{"t":90,"v":0.03},
{"t":100,"v":0.07},{"t":110,"v":-0.035},{"t":120,"v":0.01},{"t":130,"v":-0.11},{"t":140,"v":0.02},{"t":150,"v":0.05},{"t":160,"v":-0.015},{"t":170,"v":0.035},{"t":180,"v":-0.04},{"t":190,"v":0},
{"t":200,"v":0.03},{"t":210,"v":-0.055},{"t":220,"v":0.04},{"t":230,"v":-0.01},{"t":240,"v":0.06},{"t":250,"v":-0.03},{"t":260,"v":0.015},{"t":270,"v":-0.05},{"t":280,"v":0.12},{"t":290,"v":-0.02},
{"t":300,"v":0.035},{"t":310,"v":-0.07},{"t":320,"v":0.02},{"t":330,"v":0.05},{"t":340,"v":-0.035},{"t":350,"v":0.01},{"t":360,"v":-0.02},{"t":370,"v":0.055},{"t":380,"v":-0.04},{"t":390,"v":0.015},
{"t":400,"v":-0.06},{"t":410,"v":0.04},{"t":420,"v":0},{"t":430,"v":0.03},{"t":440,"v":-0.12},{"t":450,"v":0.035},{"t":460,"v":0.06},{"t":470,"v":-0.015},{"t":480,"v":0.02},{"t":490,"v":-0.05},
{"t":500,"v":0.05},{"t":510,"v":-0.03},{"t":520,"v":0.11},{"t":530,"v":-0.04},{"t":540,"v":0.015},{"t":550,"v":-0.01},{"t":560,"v":0.04},{"t":570,"v":-0.06},{"t":580,"v":0.03},{"t":590,"v":0},
{"t":600,"v":-0.035},{"t":610,"v":0.055},{"t":620,"v":-0.02},{"t":630,"v":0.035},{"t":640,"v":-0.055},{"t":650,"v":0.07},{"t":660,"v":-0.015},{"t":670,"v":0.02},{"t":680,"v":-0.04},{"t":690,"v":0.05},
{"t":700,"v":0.01},{"t":710,"v":-0.05},{"t":720,"v":0.03},{"t":730,"v":-0.07},{"t":740,"v":0.04},{"t":750,"v":0.015},{"t":760,"v":-0.03},{"t":770,"v":0.13},{"t":780,"v":-0.035},{"t":790,"v":0.02},
{"t":800,"v":-0.015},{"t":810,"v":0.04},{"t":820,"v":-0.06},{"t":830,"v":0.03},{"t":840,"v":0},{"t":850,"v":-0.04},{"t":860,"v":0.055},{"t":870,"v":-0.02},{"t":880,"v":0.035},{"t":890,"v":-0.11},
{"t":900,"v":0.05},{"t":910,"v":-0.01},{"t":920,"v":0.02},{"t":930,"v":-0.055},{"t":940,"v":0.06},{"t":950,"v":-0.03},{"t":960,"v":0.015},{"t":970,"v":0.04},{"t":980,"v":-0.05},{"t":990,"v":0.01},
{"t":1000,"v":0.03},{"t":1010,"v":-0.07},{"t":1020,"v":0.035},{"t":1030,"v":-0.015},{"t":1040,"v":0.14},{"t":1050,"v":-0.04},{"t":1060,"v":0.02},{"t":1070,"v":-0.035},{"t":1080,"v":0.05},{"t":1090,"v":-0.02},
{"t":1100,"v":0},{"t":1110,"v":0.055},{"t":1120,"v":-0.05},{"t":1130,"v":0.015},{"t":1140,"v":-0.03},{"t":1150,"v":0.04},{"t":1160,"v":-0.12},{"t":1170,"v":0.03},{"t":1180,"v":0.01},{"t":1190,"v":-0.035},
{"t":1200,"v":0.06},{"t":1210,"v":-0.02},{"t":1220,"v":0.035},{"t":1230,"v":-0.055},{"t":1240,"v":0.015},{"t":1250,"v":0.05},{"t":1260,"v":-0.04},{"t":1270,"v":0.02},{"t":1280,"v":-0.01},{"t":1290,"v":0.07},
{"t":1300,"v":-0.05},{"t":1310,"v":0.03},{"t":1320,"v":-0.015},{"t":1330,"v":0.04},{"t":1340,"v":-0.06},{"t":1350,"v":0.01},{"t":1360,"v":0.055},{"t":1370,"v":-0.035},{"t":1380,"v":0.02},{"t":1390,"v":-0.03},
{"t":1400,"v":0.04},{"t":1410,"v":-0.11},{"t":1420,"v":0.015},{"t":1430,"v":0.035},{"t":1440,"v":-0.02},{"t":1450,"v":0.06},{"t":1460,"v":-0.04},{"t":1470,"v":0},{"t":1480,"v":0.03},{"t":1490,"v":-0.055},
{"t":1500,"v":0.02},{"t":1510,"v":0.05},{"t":1520,"v":-0.035},{"t":1530,"v":0.12},{"t":1540,"v":-0.015},{"t":1550,"v":0.03},{"t":1560,"v":-0.06},{"t":1570,"v":0.04},{"t":1580,"v":-0.01},{"t":1590,"v":0.015},
{"t":1600,"v":-0.04},{"t":1610,"v":0.035},{"t":1620,"v":-0.03},{"t":1630,"v":0.055},{"t":1640,"v":-0.07},{"t":1650,"v":0.02},{"t":1660,"v":0.01},{"t":1670,"v":-0.05},{"t":1680,"v":0.04},{"t":1690,"v":-0.015},
{"t":1700,"v":0.11},{"t":1710,"v":-0.035},{"t":1720,"v":0.015},{"t":1730,"v":-0.02},{"t":1740,"v":0.05},{"t":1750,"v":-0.055},{"t":1760,"v":0.03},{"t":1770,"v":0},{"t":1780,"v":-0.04},{"t":1790,"v":0.06},
{"t":1800,"v":-0.01},{"t":1810,"v":0.035},{"t":1820,"v":-0.06},{"t":1830,"v":0.02},{"t":1840,"v":0.04},{"t":1850,"v":-0.03},{"t":1860,"v":0.055},{"t":1870,"v":-0.13},{"t":1880,"v":0.015},{"t":1890,"v":0.03},
{"t":1900,"v":-0.02},{"t":1910,"v":0.05},{"t":1920,"v":-0.04},{"t":1930,"v":0.01},{"t":1940,"v":0.07},{"t":1950,"v":-0.035},{"t":1960,"v":0.02},{"t":1970,"v":-0.015},{"t":1980,"v":0.04},{"t":1990,"v":-0.055},
{"t":2000,"v":0.03},{"t":2010,"v":-0.01},{"t":2020,"v":0.06},{"t":2030,"v":-0.05},{"t":2040,"v":0.015},{"t":2050,"v":-0.03},{"t":2060,"v":0.035},{"t":2070,"v":0},{"t":2080,"v":-0.07},{"t":2090,"v":0.04},
{"t":2100,"v":0.02},{"t":2110,"v":-0.04},{"t":2120,"v":0.055},{"t":2130,"v":-0.015},{"t":2140,"v":0.03},{"t":2150,"v":-0.06},{"t":2160,"v":0.11},{"t":2170,"v":-0.02},{"t":2180,"v":0.01},{"t":2190,"v":-0.035},
{"t":2200,"v":0.05},{"t":2210,"v":-0.03},{"t":2220,"v":0.015},{"t":2230,"v":0.04},{"t":2240,"v":-0.055},{"t":2250,"v":0.02},{"t":2260,"v":-0.01},{"t":2270,"v":0.06},{"t":2280,"v":-0.04},{"t":2290,"v":0.03},
{"t":2300,"v":-0.11},{"t":2310,"v":0.035},{"t":2320,"v":0},{"t":2330,"v":-0.02},{"t":2340,"v":0.05},{"t":2350,"v":-0.05},{"t":2360,"v":0.12},{"t":2370,"v":-0.03},{"t":2380,"v":0.015},{"t":2390,"v":0.04},
{"t":2400,"v":-0.035},{"t":2410,"v":0.02},{"t":2420,"v":-0.06},{"t":2430,"v":0.055},{"t":2440,"v":-0.015},{"t":2450,"v":0.03},{"t":2460,"v":-0.04},{"t":2470,"v":0.01},{"t":2480,"v":0.07},{"t":2490,"v":-0.02},
{"t":2500,"v":0.035},{"t":2510,"v":-0.055},{"t":2520,"v":0.015},{"t":2530,"v":-0.01},{"t":2540,"v":0.04},{"t":2550,"v":-0.07},{"t":2560,"v":0.03},{"t":2570,"v":0.05},{"t":2580,"v":-0.03},{"t":2590,"v":0},
{"t":2600,"v":0.06},{"t":2610,"v":-0.04},{"t":2620,"v":0.02},{"t":2630,"v":-0.12},{"t":2640,"v":0.035},{"t":2650,"v":0.01},{"t":2660,"v":-0.02},{"t":2670,"v":0.055},{"t":2680,"v":-0.05},{"t":2690,"v":0.015},
{"t":2700,"v":-0.015},{"t":2710,"v":0.04},{"t":2720,"v":-0.035},{"t":2730,"v":-0.15},{"t":2740,"v":-0.055},{"t":2750,"v":0.11},{"t":2760,"v":-0.01},{"t":2770,"v":0.02},{"t":2780,"v":-0.04},{"t":2790,"v":0.05},
{"t":2800,"v":0},{"t":2810,"v":-0.03},{"t":2820,"v":0.055},{"t":2830,"v":-0.06},{"t":2840,"v":0.015},{"t":2850,"v":0.035},{"t":2860,"v":-0.02},{"t":2870,"v":0.04},{"t":2880,"v":-0.05},{"t":2890,"v":0.13},
{"t":2900,"v":-0.035},{"t":2910,"v":0.015},{"t":2920,"v":0.03},{"t":2930,"v":-0.07},{"t":2940,"v":0.05},{"t":2950,"v":-0.015},{"t":2960,"v":0.02},{"t":2970,"v":-0.04},{"t":2980,"v":0.06},{"t":2990,"v":-0.03},
{"t":3000,"v":0.01},{"t":3010,"v":0.04},{"t":3020,"v":-0.055},{"t":3030,"v":0.02},{"t":3040,"v":-0.01},{"t":3050,"v":0.035},{"t":3060,"v":-0.11},{"t":3070,"v":0.055},{"t":3080,"v":-0.02},{"t":3090,"v":0.03},
{"t":3100,"v":-0.04},{"t":3110,"v":0.07},{"t":3120,"v":-0.015},{"t":3130,"v":0.015},{"t":3140,"v":-0.05},{"t":3150,"v":0.04},{"t":3160,"v":0},{"t":3170,"v":-0.03},{"t":3180,"v":0.05},{"t":3190,"v":-0.06},
{"t":3200,"v":0.02},{"t":3210,"v":-0.035},{"t":3220,"v":0.12},{"t":3230,"v":-0.02},{"t":3240,"v":0.035},{"t":3250,"v":-0.055},{"t":3260,"v":0.01},{"t":3270,"v":0.03},{"t":3280,"v":-0.04},{"t":3290,"v":0.055},
{"t":3300,"v":-0.015},{"t":3310,"v":0.05},{"t":3320,"v":-0.07},{"t":3330,"v":0.02},{"t":3340,"v":-0.03},{"t":3350,"v":0.06},{"t":3360,"v":-0.035},{"t":3370,"v":0.015},{"t":3380,"v":0.04},{"t":3390,"v":-0.05},
{"t":3400,"v":0.03},{"t":3410,"v":-0.01},{"t":3420,"v":0.035},{"t":3430,"v":-0.06},{"t":3440,"v":0.11},{"t":3450,"v":-0.02},{"t":3460,"v":0},{"t":3470,"v":-0.04},{"t":3480,"v":0.055},{"t":3490,"v":-0.03},
{"t":3500,"v":0.04},{"t":3510,"v":-0.055},{"t":3520,"v":0.015},{"t":3530,"v":0.02},{"t":3540,"v":-0.035},{"t":3550,"v":0.05},{"t":3560,"v":-0.12},{"t":3570,"v":0.035},{"t":3580,"v":-0.01},{"t":3590,"v":0.06},
{"t":3600,"v":-0.03},{"t":3610,"v":0.015},{"t":3620,"v":-0.05},{"t":3630,"v":0.04},{"t":3640,"v":0.01},{"t":3650,"v":-0.02},{"t":3660,"v":0.055},{"t":3670,"v":-0.04},{"t":3680,"v":0.14},{"t":3690,"v":-0.035},
{"t":3700,"v":0.02},{"t":3710,"v":-0.015},{"t":3720,"v":0.05},{"t":3730,"v":-0.06},{"t":3740,"v":0.03},{"t":3750,"v":0},{"t":3760,"v":-0.04},{"t":3770,"v":0.07},{"t":3780,"v":-0.02},{"t":3790,"v":0.035},
{"t":3800,"v":-0.01},
{"t":-95,"v":-0.02},{"t":-85,"v":0.04},{"t":-75,"v":-0.045},{"t":-65,"v":0.025},{"t":-55,"v":-0.015},{"t":-45,"v":0.05},{"t":-35,"v":-0.03},{"t":-25,"v":-0.01},{"t":-15,"v":0.045},{"t":-5,"v":-0.05},
{"t":5,"v":0.06},{"t":15,"v":-0.02},{"t":25,"v":0.03},{"t":35,"v":-0.04},{"t":45,"v":0.045},{"t":55,"v":-0.03},{"t":65,"v":0.01},{"t":75,"v":0.05},{"t":85,"v":-0.065},{"t":95,"v":0.02},
{"t":105,"v":-0.01},{"t":115,"v":0.04},{"t":125,"v":-0.05},{"t":135,"v":0.065},{"t":145,"v":-0.02},{"t":155,"v":-0.045},{"t":165,"v":0.03},{"t":175,"v":-0.06},{"t":185,"v":0.05},{"t":195,"v":-0.025},
{"t":205,"v":-0.04},{"t":215,"v":0.02},{"t":225,"v":-0.06},{"t":235,"v":0.05},{"t":245,"v":-0.015},{"t":255,"v":0.035},{"t":265,"v":-0.045},{"t":275,"v":0.06},{"t":285,"v":-0.03},{"t":295,"v":0.045},
{"t":305,"v":-0.05},{"t":315,"v":0.04},{"t":325,"v":-0.025},{"t":335,"v":-0.01},{"t":345,"v":0.065},{"t":355,"v":-0.04},{"t":365,"v":0.03},{"t":375,"v":-0.05},{"t":385,"v":0.045},{"t":395,"v":-0.02},
{"t":405,"v":0.05},{"t":415,"v":-0.03},{"t":425,"v":0.045},{"t":435,"v":-0.06},{"t":445,"v":0.02},{"t":455,"v":-0.04},{"t":465,"v":0.035},{"t":475,"v":-0.09},{"t":485,"v":0.055},{"t":495,"v":-0.015},
{"t":505,"v":-0.05},{"t":515,"v":0.06},{"t":525,"v":-0.03},{"t":535,"v":0.045},{"t":545,"v":-0.055},{"t":555,"v":0.03},{"t":565,"v":-0.02},{"t":575,"v":0.05},{"t":585,"v":-0.045},{"t":595,"v":0.065},
{"t":605,"v":0.02},{"t":615,"v":-0.045},{"t":625,"v":0.06},{"t":635,"v":-0.03},{"t":645,"v":0.04},{"t":655,"v":-0.05},{"t":665,"v":0.025},{"t":675,"v":-0.06},{"t":685,"v":0.045},{"t":695,"v":-0.025},
{"t":705,"v":-0.04},{"t":715,"v":0.055},{"t":725,"v":-0.02},{"t":735,"v":0.05},{"t":745,"v":-0.065},{"t":755,"v":0.035},{"t":765,"v":-0.045},{"t":775,"v":0.02},{"t":785,"v":0.055},{"t":795,"v":-0.05},
{"t":805,"v":0.045},{"t":815,"v":-0.035},{"t":825,"v":0.03},{"t":835,"v":-0.05},{"t":845,"v":0.06},{"t":855,"v":-0.02},{"t":865,"v":0.04},{"t":875,"v":-0.06},{"t":885,"v":0.025},{"t":895,"v":0.05},
{"t":905,"v":-0.045},{"t":915,"v":0.035},{"t":925,"v":-0.06},{"t":935,"v":0.05},{"t":945,"v":-0.025},{"t":955,"v":0.045},{"t":965,"v":-0.04},{"t":975,"v":0.02},{"t":985,"v":0.06},{"t":995,"v":-0.035},
{"t":1005,"v":0.055},{"t":1015,"v":-0.045},{"t":1025,"v":0.02},{"t":1035,"v":-0.06},{"t":1045,"v":0.045},{"t":1055,"v":-0.03},{"t":1065,"v":0.065},{"t":1075,"v":-0.05},{"t":1085,"v":0.03},{"t":1095,"v":-0.04},
{"t":1105,"v":0.04},{"t":1115,"v":-0.06},{"t":1125,"v":0.05},{"t":1135,"v":-0.02},{"t":1145,"v":0.06},{"t":1155,"v":-0.045},{"t":1165,"v":0.03},{"t":1175,"v":-0.05},{"t":1185,"v":0.045},{"t":1195,"v":0.02},
{"t":1205,"v":-0.05},{"t":1215,"v":0.04},{"t":1225,"v":-0.03},{"t":1235,"v":0.055},{"t":1245,"v":-0.04},{"t":1255,"v":0.025},{"t":1265,"v":-0.065},{"t":1275,"v":0.05},{"t":1285,"v":-0.02},{"t":1295,"v":-0.045},
{"t":1305,"v":0.06},{"t":1315,"v":-0.035},{"t":1325,"v":0.045},{"t":1335,"v":-0.05},{"t":1345,"v":0.03},{"t":1355,"v":-0.04},{"t":1365,"v":0.02},{"t":1375,"v":0.065},{"t":1385,"v":-0.055},{"t":1395,"v":0.04},
{"t":1405,"v":-0.02},{"t":1415,"v":0.05},{"t":1425,"v":-0.06},{"t":1435,"v":0.03},{"t":1445,"v":-0.045},{"t":1455,"v":0.04},{"t":1465,"v":-0.025},{"t":1475,"v":0.06},{"t":1485,"v":-0.05},{"t":1495,"v":0.035},
{"t":1505,"v":-0.04},{"t":1515,"v":0.045},{"t":1525,"v":-0.02},{"t":1535,"v":0.055},{"t":1545,"v":-0.06},{"t":1555,"v":0.03},{"t":1565,"v":0.05},{"t":1575,"v":-0.045},{"t":1585,"v":0.04},{"t":1595,"v":-0.05},
{"t":1605,"v":0.05},{"t":1615,"v":-0.025},{"t":1625,"v":0.06},{"t":1635,"v":-0.04},{"t":1645,"v":0.035},{"t":1655,"v":-0.055},{"t":1665,"v":0.045},{"t":1675,"v":0.02},{"t":1685,"v":-0.06},{"t":1695,"v":0.04},
{"t":1705,"v":-0.045},{"t":1715,"v":0.03},{"t":1725,"v":-0.05},{"t":1735,"v":0.06},{"t":1745,"v":-0.02},{"t":1755,"v":0.04},{"t":1765,"v":-0.065},{"t":1775,"v":0.05},{"t":1785,"v":-0.03},{"t":1795,"v":0.045},
{"t":1805,"v":-0.05},{"t":1815,"v":0.065},{"t":1825,"v":-0.035},{"t":1835,"v":0.045},{"t":1845,"v":-0.045},{"t":1855,"v":0.02},{"t":1865,"v":-0.02},{"t":1875,"v":0.055},{"t":1885,"v":-0.04},{"t":1895,"v":0.06},
{"t":1905,"v":-0.03},{"t":1915,"v":0.04},{"t":1925,"v":-0.055},{"t":1935,"v":0.05},{"t":1945,"v":-0.04},{"t":1955,"v":0.06},{"t":1965,"v":-0.025},{"t":1975,"v":0.045},{"t":1985,"v":-0.05},{"t":1995,"v":0.03},
{"t":2005,"v":-0.04},{"t":2015,"v":0.05},{"t":2025,"v":-0.03},{"t":2035,"v":0.045},{"t":2045,"v":-0.06},{"t":2055,"v":0.035},{"t":2065,"v":-0.045},{"t":2075,"v":0.06},{"t":2085,"v":-0.02},{"t":2095,"v":0.05},
{"t":2105,"v":-0.055},{"t":2115,"v":0.045},{"t":2125,"v":-0.03},{"t":2135,"v":0.06},{"t":2145,"v":-0.04},{"t":2155,"v":0.025},{"t":2165,"v":-0.05},{"t":2175,"v":0.04},{"t":2185,"v":-0.065},{"t":2195,"v":0.055},
{"t":2205,"v":-0.02},{"t":2215,"v":0.035},{"t":2225,"v":-0.05},{"t":2235,"v":0.05},{"t":2245,"v":-0.03},{"t":2255,"v":0.065},{"t":2265,"v":-0.04},{"t":2275,"v":0.02},{"t":2285,"v":-0.055},{"t":2295,"v":0.045},
{"t":2305,"v":0.05},{"t":2315,"v":-0.04},{"t":2325,"v":0.055},{"t":2335,"v":-0.03},{"t":2345,"v":0.04},{"t":2355,"v":-0.06},{"t":2365,"v":0.03},{"t":2375,"v":-0.045},{"t":2385,"v":0.06},{"t":2395,"v":-0.02},
{"t":2405,"v":0.045},{"t":2415,"v":-0.05},{"t":2425,"v":0.03},{"t":2435,"v":-0.035},{"t":2445,"v":0.06},{"t":2455,"v":-0.045},{"t":2465,"v":0.05},{"t":2475,"v":-0.06},{"t":2485,"v":0.02},{"t":2495,"v":-0.04},
{"t":2505,"v":0.05},{"t":2515,"v":-0.02},{"t":2525,"v":0.065},{"t":2535,"v":-0.045},{"t":2545,"v":0.035},{"t":2555,"v":-0.055},{"t":2565,"v":0.045},{"t":2575,"v":-0.03},{"t":2585,"v":0.055},{"t":2595,"v":-0.05},
{"t":2605,"v":-0.03},{"t":2615,"v":0.05},{"t":2625,"v":-0.055},{"t":2635,"v":0.04},{"t":2645,"v":-0.04},{"t":2655,"v":0.06},{"t":2665,"v":-0.02},{"t":2675,"v":0.045},{"t":2685,"v":-0.06},{"t":2695,"v":0.035},
{"t":2705,"v":0.045},{"t":2715,"v":-0.06},{"t":2725,"v":0.055},{"t":2735,"v":-0.08},{"t":2745,"v":0.03},{"t":2755,"v":-0.035},{"t":2765,"v":0.05},{"t":2775,"v":-0.045},{"t":2785,"v":0.06},{"t":2795,"v":-0.025},
{"t":2805,"v":0.04},{"t":2815,"v":-0.05},{"t":2825,"v":0.03},{"t":2835,"v":-0.04},{"t":2845,"v":0.055},{"t":2855,"v":-0.055},{"t":2865,"v":0.045},{"t":2875,"v":-0.02},{"t":2885,"v":0.06},{"t":2895,"v":-0.045},
{"t":2905,"v":0.05},{"t":2915,"v":-0.04},{"t":2925,"v":0.065},{"t":2935,"v":-0.03},{"t":2945,"v":0.035},{"t":2955,"v":-0.06},{"t":2965,"v":0.045},{"t":2975,"v":-0.05},{"t":2985,"v":0.02},{"t":2995,"v":0.055},
{"t":3005,"v":-0.045},{"t":3015,"v":0.04},{"t":3025,"v":-0.02},{"t":3035,"v":0.06},{"t":3045,"v":-0.05},{"t":3055,"v":0.03},{"t":3065,"v":-0.04},{"t":3075,"v":0.055},{"t":3085,"v":-0.06},{"t":3095,"v":0.045},
{"t":3105,"v":0.03},{"t":3115,"v":-0.045},{"t":3125,"v":0.05},{"t":3135,"v":-0.055},{"t":3145,"v":0.04},{"t":3155,"v":-0.02},{"t":3165,"v":0.065},{"t":3175,"v":-0.045},{"t":3185,"v":0.035},{"t":3195,"v":-0.04},
{"t":3205,"v":-0.05},{"t":3215,"v":0.06},{"t":3225,"v":-0.03},{"t":3235,"v":0.045},{"t":3245,"v":-0.06},{"t":3255,"v":0.05},{"t":3265,"v":-0.04},{"t":3275,"v":0.025},{"t":3285,"v":-0.045},{"t":3295,"v":0.06},
{"t":3305,"v":0.04},{"t":3315,"v":-0.055},{"t":3325,"v":0.035},{"t":3335,"v":-0.045},{"t":3345,"v":0.065},{"t":3355,"v":-0.03},{"t":3365,"v":0.05},{"t":3375,"v":-0.06},{"t":3385,"v":0.03},{"t":3395,"v":-0.02},
{"t":3405,"v":-0.045},{"t":3415,"v":0.055},{"t":3425,"v":-0.05},{"t":3435,"v":0.04},{"t":3445,"v":-0.035},{"t":3455,"v":0.06},{"t":3465,"v":-0.055},{"t":3475,"v":0.045},{"t":3485,"v":-0.02},{"t":3495,"v":0.05},
{"t":3505,"v":-0.06},{"t":3515,"v":0.035},{"t":3525,"v":-0.04},{"t":3535,"v":0.055},{"t":3545,"v":-0.05},{"t":3555,"v":0.02},{"t":3565,"v":0.045},{"t":3575,"v":-0.045},{"t":3585,"v":0.065},{"t":3595,"v":-0.035},
{"t":3605,"v":0.05},{"t":3615,"v":-0.04},{"t":3625,"v":0.06},{"t":3635,"v":-0.055},{"t":3645,"v":0.03},{"t":3655,"v":-0.045},{"t":3665,"v":0.04},{"t":3675,"v":-0.06},{"t":3685,"v":0.05},{"t":3695,"v":-0.03},
{"t":3705,"v":-0.05},{"t":3715,"v":0.045},{"t":3725,"v":-0.035},{"t":3735,"v":0.06},{"t":3745,"v":-0.04},{"t":3755,"v":0.05},{"t":3765,"v":-0.055},{"t":3775,"v":0.035},{"t":3785,"v":-0.045},{"t":3795,"v":0.04}
],
"d": [
{"s":"T104I","t":-100,"v":-73},{"s":"T104I","t":-50,"v":-70},{"s":"T104I","t":-15,"v":-66},{"s":"T104I","t":-3,"v":-60},{"s":"T104I","t":0,"v":-20},{"s":"T104I","t":3,"v":24},{"s":"T104I","t":15,"v":27},{"s":"T104I","t":40,"v":32},{"s":"T104I","t":84,"v":36},{"s":"T104I","t":120,"v":38},{"s":"T104I","t":170,"v":35},{"s":"T104I","t":250,"v":26},{"s":"T104I","t":331,"v":17.5},{"s":"T104I","t":420,"v":7},{"s":"T104I","t":511,"v":-3},{"s":"T104I","t":580,"v":-10},{"s":"T104I","t":646,"v":-19},{"s":"T104I","t":670,"v":-30},{"s":"T104I","t":691,"v":-44},{"s":"T104I","t":715,"v":-58},{"s":"T104I","t":736,"v":-67},{"s":"T104I","t":760,"v":-72},{"s":"T104I","t":790,"v":-75},{"s":"T104I","t":850,"v":-74},{"s":"T104I","t":920,"v":-71},{"s":"T104I","t":971,"v":-66},{"s":"T104I","t":990,"v":-62},{"s":"T104I","t":998,"v":-20},{"s":"T104I","t":1001,"v":24},{"s":"T104I","t":1015,"v":28},{"s":"T104I","t":1060,"v":35},{"s":"T104I","t":1114,"v":38},{"s":"T104I","t":1170,"v":36},{"s":"T104I","t":1250,"v":29},{"s":"T104I","t":1350,"v":19},{"s":"T104I","t":1450,"v":9},{"s":"T104I","t":1543,"v":0},{"s":"T104I","t":1620,"v":-10},{"s":"T104I","t":1686,"v":-20},{"s":"T104I","t":1710,"v":-35},{"s":"T104I","t":1729,"v":-48},{"s":"T104I","t":1750,"v":-61},{"s":"T104I","t":1771,"v":-70},{"s":"T104I","t":1800,"v":-74},{"s":"T104I","t":1829,"v":-75},{"s":"T104I","t":1900,"v":-73},{"s":"T104I","t":1971,"v":-68},{"s":"T104I","t":1995,"v":-62},{"s":"T104I","t":2003,"v":-20},{"s":"T104I","t":2006,"v":24},{"s":"T104I","t":2020,"v":28},{"s":"T104I","t":2070,"v":35},{"s":"T104I","t":2129,"v":38},{"s":"T104I","t":2190,"v":36},{"s":"T104I","t":2280,"v":28},{"s":"T104I","t":2400,"v":16},{"s":"T104I","t":2543,"v":0},{"s":"T104I","t":2620,"v":-10},{"s":"T104I","t":2686,"v":-20},{"s":"T104I","t":2715,"v":-37},{"s":"T104I","t":2743,"v":-52},{"s":"T104I","t":2765,"v":-65},{"s":"T104I","t":2786,"v":-73},{"s":"T104I","t":2820,"v":-75},{"s":"T104I","t":2857,"v":-75},{"s":"T104I","t":2920,"v":-72},{"s":"T104I","t":2971,"v":-68},{"s":"T104I","t":3005,"v":-60},{"s":"T104I","t":3013,"v":-20},{"s":"T104I","t":3016,"v":24},{"s":"T104I","t":3030,"v":28},{"s":"T104I","t":3080,"v":35},{"s":"T104I","t":3143,"v":38},{"s":"T104I","t":3200,"v":36},{"s":"T104I","t":3300,"v":27},{"s":"T104I","t":3400,"v":16},{"s":"T104I","t":3543,"v":0},{"s":"T104I","t":3620,"v":-12},{"s":"T104I","t":3700,"v":-30},{"s":"T104I","t":3722,"v":-43},{"s":"T104I","t":3743,"v":-57},{"s":"T104I","t":3770,"v":-66},{"s":"T104I","t":3800,"v":-72},
{"s":"P197S","t":-100,"v":-73},{"s":"P197S","t":-50,"v":-70},{"s":"P197S","t":-15,"v":-66},{"s":"P197S","t":-3,"v":-60},{"s":"P197S","t":0,"v":-20},{"s":"P197S","t":3,"v":24},{"s":"P197S","t":15,"v":27},{"s":"P197S","t":40,"v":31},{"s":"P197S","t":84,"v":35},{"s":"P197S","t":110,"v":36},{"s":"P197S","t":150,"v":33},{"s":"P197S","t":219,"v":22},{"s":"P197S","t":300,"v":12},{"s":"P197S","t":376,"v":1.4},{"s":"P197S","t":450,"v":-7},{"s":"P197S","t":511,"v":-15},{"s":"P197S","t":560,"v":-20},{"s":"P197S","t":590,"v":-25},{"s":"P197S","t":610,"v":-33},{"s":"P197S","t":624,"v":-44},{"s":"P197S","t":640,"v":-58},{"s":"P197S","t":658,"v":-70},{"s":"P197S","t":680,"v":-74},{"s":"P197S","t":714,"v":-75},{"s":"P197S","t":780,"v":-74},{"s":"P197S","t":857,"v":-73},{"s":"P197S","t":890,"v":-70},{"s":"P197S","t":910,"v":-66},{"s":"P197S","t":920,"v":-60},{"s":"P197S","t":923,"v":-20},{"s":"P197S","t":926,"v":24},{"s":"P197S","t":940,"v":28},{"s":"P197S","t":975,"v":33},{"s":"P197S","t":1014,"v":36},{"s":"P197S","t":1050,"v":35},{"s":"P197S","t":1100,"v":31},{"s":"P197S","t":1200,"v":20},{"s":"P197S","t":1300,"v":9},{"s":"P197S","t":1371,"v":2},{"s":"P197S","t":1450,"v":-8},{"s":"P197S","t":1500,"v":-15},{"s":"P197S","t":1543,"v":-23},{"s":"P197S","t":1570,"v":-33},{"s":"P197S","t":1600,"v":-48},{"s":"P197S","t":1620,"v":-60},{"s":"P197S","t":1643,"v":-69},{"s":"P197S","t":1670,"v":-73},{"s":"P197S","t":1714,"v":-75},{"s":"P197S","t":1780,"v":-73},{"s":"P197S","t":1829,"v":-68},{"s":"P197S","t":1850,"v":-63},{"s":"P197S","t":1856,"v":-20},{"s":"P197S","t":1859,"v":24},{"s":"P197S","t":1875,"v":28},{"s":"P197S","t":1910,"v":33},{"s":"P197S","t":1943,"v":36},{"s":"P197S","t":1990,"v":34},{"s":"P197S","t":2050,"v":29},{"s":"P197S","t":2150,"v":18},{"s":"P197S","t":2250,"v":8},{"s":"P197S","t":2314,"v":2},{"s":"P197S","t":2400,"v":-10},{"s":"P197S","t":2471,"v":-23},{"s":"P197S","t":2495,"v":-35},{"s":"P197S","t":2514,"v":-48},{"s":"P197S","t":2535,"v":-60},{"s":"P197S","t":2557,"v":-68},{"s":"P197S","t":2590,"v":-73},{"s":"P197S","t":2629,"v":-75},{"s":"P197S","t":2700,"v":-73},{"s":"P197S","t":2743,"v":-70},{"s":"P197S","t":2775,"v":-64},{"s":"P197S","t":2783,"v":-20},{"s":"P197S","t":2787,"v":24},{"s":"P197S","t":2800,"v":28},{"s":"P197S","t":2840,"v":33},{"s":"P197S","t":2886,"v":36},{"s":"P197S","t":2930,"v":34},{"s":"P197S","t":3000,"v":28},{"s":"P197S","t":3100,"v":17},{"s":"P197S","t":3229,"v":2},{"s":"P197S","t":3300,"v":-8},{"s":"P197S","t":3386,"v":-23},{"s":"P197S","t":3408,"v":-35},{"s":"P197S","t":3429,"v":-48},{"s":"P197S","t":3450,"v":-60},{"s":"P197S","t":3471,"v":-68},{"s":"P197S","t":3500,"v":-73},{"s":"P197S","t":3543,"v":-75},{"s":"P197S","t":3620,"v":-73},{"s":"P197S","t":3686,"v":-69},{"s":"P197S","t":3720,"v":-63},{"s":"P197S","t":3728,"v":-20},{"s":"P197S","t":3731,"v":24},{"s":"P197S","t":3760,"v":28},{"s":"P197S","t":3800,"v":33}
],
"e": [
{"s":"T104I","t":-100,"v":-73},{"s":"T104I","t":-50,"v":-71},{"s":"T104I","t":-15,"v":-67},{"s":"T104I","t":-3,"v":-62},{"s":"T104I","t":0,"v":-20},{"s":"T104I","t":3,"v":30},{"s":"T104I","t":15,"v":31},{"s":"T104I","t":30,"v":28},{"s":"T104I","t":50,"v":31},{"s":"T104I","t":90,"v":35},{"s":"T104I","t":106,"v":35},{"s":"T104I","t":150,"v":31},{"s":"T104I","t":219,"v":24},{"s":"T104I","t":275,"v":17},{"s":"T104I","t":331,"v":10},{"s":"T104I","t":390,"v":0},{"s":"T104I","t":443,"v":-15},{"s":"T104I","t":480,"v":-23},{"s":"T104I","t":511,"v":-29},{"s":"T104I","t":545,"v":-35},{"s":"T104I","t":579,"v":-41},{"s":"T104I","t":600,"v":-50},{"s":"T104I","t":624,"v":-64},{"s":"T104I","t":640,"v":-72},{"s":"T104I","t":658,"v":-76},{"s":"T104I","t":700,"v":-76},{"s":"T104I","t":800,"v":-75},{"s":"T104I","t":900,"v":-73},{"s":"T104I","t":970,"v":-70},{"s":"T104I","t":995,"v":-64},{"s":"T104I","t":1003,"v":-20},{"s":"T104I","t":1006,"v":30},{"s":"T104I","t":1020,"v":31},{"s":"T104I","t":1035,"v":29},{"s":"T104I","t":1055,"v":32},{"s":"T104I","t":1095,"v":35},{"s":"T104I","t":1110,"v":35},{"s":"T104I","t":1150,"v":31},{"s":"T104I","t":1220,"v":24},{"s":"T104I","t":1280,"v":17},{"s":"T104I","t":1335,"v":10},{"s":"T104I","t":1395,"v":0},{"s":"T104I","t":1446,"v":-15},{"s":"T104I","t":1485,"v":-23},{"s":"T104I","t":1515,"v":-29},{"s":"T104I","t":1550,"v":-35},{"s":"T104I","t":1585,"v":-41},{"s":"T104I","t":1605,"v":-50},{"s":"T104I","t":1628,"v":-64},{"s":"T104I","t":1645,"v":-72},{"s":"T104I","t":1665,"v":-76},{"s":"T104I","t":1720,"v":-76},{"s":"T104I","t":1850,"v":-75},{"s":"T104I","t":1950,"v":-72},{"s":"T104I","t":1995,"v":-68},{"s":"T104I","t":2015,"v":-63},{"s":"T104I","t":2021,"v":-20},{"s":"T104I","t":2024,"v":30},{"s":"T104I","t":2036,"v":31},{"s":"T104I","t":2052,"v":28},{"s":"T104I","t":2072,"v":31},{"s":"T104I","t":2112,"v":35},{"s":"T104I","t":2128,"v":35},{"s":"T104I","t":2172,"v":31},{"s":"T104I","t":2241,"v":24},{"s":"T104I","t":2297,"v":17},{"s":"T104I","t":2353,"v":10},{"s":"T104I","t":2412,"v":0},{"s":"T104I","t":2465,"v":-15},{"s":"T104I","t":2502,"v":-23},{"s":"T104I","t":2533,"v":-29},{"s":"T104I","t":2567,"v":-35},{"s":"T104I","t":2601,"v":-41},{"s":"T104I","t":2622,"v":-50},{"s":"T104I","t":2646,"v":-64},{"s":"T104I","t":2662,"v":-72},{"s":"T104I","t":2680,"v":-76},{"s":"T104I","t":2750,"v":-76},{"s":"T104I","t":2850,"v":-75},{"s":"T104I","t":2950,"v":-72},{"s":"T104I","t":3000,"v":-68},{"s":"T104I","t":3015,"v":-63},{"s":"T104I","t":3021,"v":-20},{"s":"T104I","t":3024,"v":30},{"s":"T104I","t":3036,"v":31},{"s":"T104I","t":3052,"v":28},{"s":"T104I","t":3072,"v":31},{"s":"T104I","t":3112,"v":35},{"s":"T104I","t":3128,"v":35},{"s":"T104I","t":3172,"v":31},{"s":"T104I","t":3241,"v":24},{"s":"T104I","t":3297,"v":17},{"s":"T104I","t":3353,"v":10},{"s":"T104I","t":3412,"v":0},{"s":"T104I","t":3465,"v":-15},{"s":"T104I","t":3502,"v":-23},{"s":"T104I","t":3533,"v":-29},{"s":"T104I","t":3567,"v":-35},{"s":"T104I","t":3601,"v":-41},{"s":"T104I","t":3622,"v":-50},{"s":"T104I","t":3646,"v":-64},{"s":"T104I","t":3662,"v":-72},{"s":"T104I","t":3680,"v":-76},{"s":"T104I","t":3750,"v":-75},{"s":"T104I","t":3800,"v":-74},
{"s":"P197S","t":-100,"v":-73},{"s":"P197S","t":-50,"v":-71},{"s":"P197S","t":-15,"v":-67},{"s":"P197S","t":-3,"v":-62},{"s":"P197S","t":0,"v":-20},{"s":"P197S","t":3,"v":30},{"s":"P197S","t":15,"v":31},{"s":"P197S","t":30,"v":28},{"s":"P197S","t":50,"v":31},{"s":"P197S","t":90,"v":35},{"s":"P197S","t":106,"v":35},{"s":"P197S","t":150,"v":31},{"s":"P197S","t":219,"v":24},{"s":"P197S","t":275,"v":17},{"s":"P197S","t":331,"v":10},{"s":"P197S","t":390,"v":0},{"s":"P197S","t":443,"v":-15},{"s":"P197S","t":480,"v":-23},{"s":"P197S","t":511,"v":-28},{"s":"P197S","t":545,"v":-32},{"s":"P197S","t":579,"v":-35},{"s":"P197S","t":624,"v":-39},{"s":"P197S","t":660,"v":-45},{"s":"P197S","t":692,"v":-50},{"s":"P197S","t":715,"v":-60},{"s":"P197S","t":736,"v":-69},{"s":"P197S","t":755,"v":-75},{"s":"P197S","t":770,"v":-77},{"s":"P197S","t":820,"v":-76},{"s":"P197S","t":950,"v":-74},{"s":"P197S","t":1060,"v":-71},{"s":"P197S","t":1090,"v":-67},{"s":"P197S","t":1100,"v":-62},{"s":"P197S","t":1103,"v":-20},{"s":"P197S","t":1106,"v":30},{"s":"P197S","t":1118,"v":31},{"s":"P197S","t":1133,"v":28},{"s":"P197S","t":1153,"v":31},{"s":"P197S","t":1193,"v":35},{"s":"P197S","t":1209,"v":35},{"s":"P197S","t":1253,"v":31},{"s":"P197S","t":1322,"v":24},{"s":"P197S","t":1378,"v":17},{"s":"P197S","t":1434,"v":10},{"s":"P197S","t":1493,"v":0},{"s":"P197S","t":1546,"v":-13},{"s":"P197S","t":1583,"v":-21},{"s":"P197S","t":1620,"v":-27},{"s":"P197S","t":1657,"v":-29},{"s":"P197S","t":1690,"v":-24},{"s":"P197S","t":1720,"v":-10},{"s":"P197S","t":1750,"v":2},{"s":"P197S","t":1786,"v":8},{"s":"P197S","t":1820,"v":5},{"s":"P197S","t":1860,"v":-3},{"s":"P197S","t":1914,"v":-16},{"s":"P197S","t":1960,"v":-25},{"s":"P197S","t":2029,"v":-36},{"s":"P197S","t":2060,"v":-45},{"s":"P197S","t":2086,"v":-56},{"s":"P197S","t":2110,"v":-68},{"s":"P197S","t":2129,"v":-74},{"s":"P197S","t":2171,"v":-77},{"s":"P197S","t":2300,"v":-74},{"s":"P197S","t":2440,"v":-70},{"s":"P197S","t":2490,"v":-66},{"s":"P197S","t":2503,"v":-62},{"s":"P197S","t":2506,"v":-20},{"s":"P197S","t":2509,"v":30},{"s":"P197S","t":2521,"v":31},{"s":"P197S","t":2536,"v":28},{"s":"P197S","t":2556,"v":31},{"s":"P197S","t":2596,"v":35},{"s":"P197S","t":2612,"v":35},{"s":"P197S","t":2656,"v":31},{"s":"P197S","t":2725,"v":24},{"s":"P197S","t":2781,"v":17},{"s":"P197S","t":2837,"v":8},{"s":"P197S","t":2880,"v":0},{"s":"P197S","t":2940,"v":-10},{"s":"P197S","t":3000,"v":-18},{"s":"P197S","t":3050,"v":-25},{"s":"P197S","t":3090,"v":-29},{"s":"P197S","t":3120,"v":-24},{"s":"P197S","t":3155,"v":-6},{"s":"P197S","t":3200,"v":10},{"s":"P197S","t":3240,"v":8},{"s":"P197S","t":3314,"v":-2},{"s":"P197S","t":3370,"v":-14},{"s":"P197S","t":3429,"v":-27},{"s":"P197S","t":3460,"v":-38},{"s":"P197S","t":3486,"v":-45},{"s":"P197S","t":3510,"v":-58},{"s":"P197S","t":3543,"v":-72},{"s":"P197S","t":3571,"v":-77},{"s":"P197S","t":3650,"v":-76},{"s":"P197S","t":3800,"v":-72}
],
"stars": [{"t":1743,"v":34,"label":"*"},{"t":3194,"v":43,"label":"*"}]
},
"spacing": 6,
"resolve": {"scale": {"color": "independent"}, "legend": {"color": "independent"}},
"vconcat": [
{
"hconcat": [
{
"title": {"text": "A.", "anchor": "start", "fontSize": 26, "fontWeight": "bold", "frame": "bounds", "dy": 24},
"spacing": 14,
"resolve": {"scale": {"color": "independent"}, "legend": {"color": "independent"}},
"vconcat": [
{"width": 243, "height": 84, "data": {"name": "a1"},
 "title": {"text": "Example Cell #1", "fontSize": 16, "fontWeight": "bold", "anchor": "middle", "frame": "bounds", "offset": 12, "dx": -17},
 "mark": {"type": "line", "clip": true, "strokeWidth": 1.8, "interpolate": "monotone"},
 "encoding": {
  "x": {"field": "t", "type": "quantitative", "scale": {"domain": [-200, 1000], "nice": false}, "axis": {"values": [0, 500, 1000], "format": "d", "title": null}},
  "y": {"field": "v", "type": "quantitative", "scale": {"domain": [-100, 38], "nice": false, "zero": false}, "axis": {"values": [-100, -50, 0], "title": "Voltage (mV)", "titleX": -46, "labelExpr": "(datum.value < 0 ? '-' : '') + format(abs(datum.value), '~g')"}},
  "color": {"field": "s", "type": "nominal", "scale": {"domain": ["Control", "T104I", "P197S"], "range": ["#000000", "#0072BD", "#D95319"]},
   "legend": {"orient": "none", "legendX": 196.5, "legendY": 0, "title": null, "symbolType": "M-2,0H2", "symbolSize": 169, "symbolStrokeWidth": 2, "rowPadding": 2, "labelOffset": 8.5, "labelFontSize": 14}}
 }},
{"width": 243, "height": 84, "data": {"name": "a2"},
 "mark": {"type": "line", "clip": true, "strokeWidth": 1.8, "interpolate": "monotone"},
 "encoding": {
  "x": {"field": "t", "type": "quantitative", "scale": {"domain": [-200, 1000], "nice": false}, "axis": {"values": [0, 500, 1000], "format": "d", "title": null}},
  "y": {"field": "v", "type": "quantitative", "scale": {"domain": [0, 0.107], "nice": false, "zero": false}, "axis": {"values": [0, 0.05, 0.1], "title": "IKs (pA/pF)", "titleX": -46, "labelExpr": "(datum.value < 0 ? '-' : '') + format(abs(datum.value), '~g')"}},
  "color": {"field": "s", "type": "nominal", "scale": {"domain": ["Control", "T104I", "P197S"], "range": ["#000000", "#0072BD", "#D95319"]}, "legend": null}
 }},
{"width": 243, "height": 84, "data": {"name": "a3"},
 "mark": {"type": "line", "clip": true, "strokeWidth": 1.8, "interpolate": "monotone"},
 "encoding": {
  "x": {"field": "t", "type": "quantitative", "scale": {"domain": [-200, 1000], "nice": false}, "axis": {"values": [0, 500, 1000], "format": "d", "title": null}},
  "y": {"field": "v", "type": "quantitative", "scale": {"domain": [0, 0.156], "nice": false, "zero": false}, "axis": {"values": [0, 0.1], "title": "IKr (pA/pF)", "titleX": -46, "labelExpr": "(datum.value < 0 ? '-' : '') + format(abs(datum.value), '~g')"}},
  "color": {"field": "s", "type": "nominal", "scale": {"domain": ["Control", "T104I", "P197S"], "range": ["#000000", "#0072BD", "#D95319"]}, "legend": null}
 }},
{"width": 243, "height": 84, "data": {"name": "a4"},
 "mark": {"type": "line", "clip": true, "strokeWidth": 1.8, "interpolate": "monotone"},
 "encoding": {
  "x": {"field": "t", "type": "quantitative", "scale": {"domain": [-200, 1000], "nice": false}, "axis": {"values": [0, 500, 1000], "format": "d", "title": null}},
  "y": {"field": "v", "type": "quantitative", "scale": {"domain": [-0.6, 0.045], "nice": false, "zero": false}, "axis": {"values": [-0.6, -0.4, -0.2, 0], "title": "ICaL (pA/pF)", "titleX": -46, "labelExpr": "(datum.value < 0 ? '-' : '') + format(abs(datum.value), '~g')"}},
  "color": {"field": "s", "type": "nominal", "scale": {"domain": ["Control", "T104I", "P197S"], "range": ["#000000", "#0072BD", "#D95319"]}, "legend": null}
 }},
{"width": 243, "height": 84, "data": {"name": "a5"},
 "mark": {"type": "line", "clip": true, "strokeWidth": 1.8, "interpolate": "monotone"},
 "encoding": {
  "x": {"field": "t", "type": "quantitative", "scale": {"domain": [-200, 1000], "nice": false}, "axis": {"values": [0, 500, 1000], "format": "d", "title": "Time (ms)"}},
  "y": {"field": "v", "type": "quantitative", "scale": {"domain": [-0.1, 0.2], "nice": false, "zero": false}, "axis": {"values": [-0.1, 0, 0.1, 0.2], "title": "Sum (pA/pF)", "titleX": -46, "labelExpr": "(datum.value < 0 ? '-' : '') + format(abs(datum.value), '~g')"}},
  "color": {"field": "s", "type": "nominal", "scale": {"domain": ["Control", "T104I", "P197S"], "range": ["#000000", "#0072BD", "#D95319"]}, "legend": null}
 }}
]
},
{
"title": {"text": "B.", "anchor": "start", "fontSize": 26, "fontWeight": "bold", "frame": "bounds", "dy": 24},
"spacing": 14,
"resolve": {"scale": {"color": "independent"}, "legend": {"color": "independent"}},
"vconcat": [
{"width": 237, "height": 84, "data": {"name": "b1"},
 "title": {"text": "Example Cell #2", "fontSize": 16, "fontWeight": "bold", "anchor": "middle", "frame": "bounds", "offset": 12},
 "mark": {"type": "line", "clip": true, "strokeWidth": 1.8, "interpolate": "monotone"},
 "encoding": {
  "x": {"field": "t", "type": "quantitative", "scale": {"domain": [-200, 1000], "nice": false}, "axis": {"values": [0, 500, 1000], "format": "d", "title": null}},
  "y": {"field": "v", "type": "quantitative", "scale": {"domain": [-100, 36], "nice": false, "zero": false}, "axis": {"values": [-100, -50, 0], "title": "Voltage (mV)", "titleX": -46, "labelExpr": "(datum.value < 0 ? '-' : '') + format(abs(datum.value), '~g')"}},
  "color": {"field": "s", "type": "nominal", "scale": {"domain": ["Control", "T104I", "P197S"], "range": ["#000000", "#0072BD", "#D95319"]},
   "legend": {"orient": "none", "legendX": 174.5, "legendY": 0, "title": null, "symbolType": "M-2,0H2", "symbolSize": 225, "symbolStrokeWidth": 2, "rowPadding": 2, "labelOffset": 9.5, "labelFontSize": 14}}
 }},
{"width": 237, "height": 84, "data": {"name": "b2"},
 "mark": {"type": "line", "clip": true, "strokeWidth": 1.8, "interpolate": "monotone"},
 "encoding": {
  "x": {"field": "t", "type": "quantitative", "scale": {"domain": [-200, 1000], "nice": false}, "axis": {"values": [0, 500, 1000], "format": "d", "title": null}},
  "y": {"field": "v", "type": "quantitative", "scale": {"domain": [0, 0.102], "nice": false, "zero": false}, "axis": {"values": [0, 0.05, 0.1], "title": "IKs (pA/pF)", "titleX": -46, "labelExpr": "(datum.value < 0 ? '-' : '') + format(abs(datum.value), '~g')"}},
  "color": {"field": "s", "type": "nominal", "scale": {"domain": ["Control", "T104I", "P197S"], "range": ["#000000", "#0072BD", "#D95319"]}, "legend": null}
 }},
{"width": 237, "height": 84, "data": {"name": "b3"},
 "mark": {"type": "line", "clip": true, "strokeWidth": 1.8, "interpolate": "monotone"},
 "encoding": {
  "x": {"field": "t", "type": "quantitative", "scale": {"domain": [-200, 1000], "nice": false}, "axis": {"values": [0, 500, 1000], "format": "d", "title": null}},
  "y": {"field": "v", "type": "quantitative", "scale": {"domain": [0, 0.505], "nice": false, "zero": false}, "axis": {"values": [0, 0.5], "title": "IKr (pA/pF)", "titleX": -46, "labelExpr": "(datum.value < 0 ? '-' : '') + format(abs(datum.value), '~g')"}},
  "color": {"field": "s", "type": "nominal", "scale": {"domain": ["Control", "T104I", "P197S"], "range": ["#000000", "#0072BD", "#D95319"]}, "legend": null}
 }},
{"width": 237, "height": 84, "data": {"name": "b4"},
 "mark": {"type": "line", "clip": true, "strokeWidth": 1.8, "interpolate": "monotone"},
 "encoding": {
  "x": {"field": "t", "type": "quantitative", "scale": {"domain": [-200, 1000], "nice": false}, "axis": {"values": [0, 500, 1000], "format": "d", "title": null}},
  "y": {"field": "v", "type": "quantitative", "scale": {"domain": [-1, 0.1], "nice": false, "zero": false}, "axis": {"values": [-1, -0.5, 0], "title": "ICaL (pA/pF)", "titleX": -46, "labelExpr": "(datum.value < 0 ? '-' : '') + format(abs(datum.value), '~g')"}},
  "color": {"field": "s", "type": "nominal", "scale": {"domain": ["Control", "T104I", "P197S"], "range": ["#000000", "#0072BD", "#D95319"]}, "legend": null}
 }},
{"width": 237, "height": 84, "data": {"name": "b5"},
 "mark": {"type": "line", "clip": true, "strokeWidth": 1.8, "interpolate": "monotone"},
 "encoding": {
  "x": {"field": "t", "type": "quantitative", "scale": {"domain": [-200, 1000], "nice": false}, "axis": {"values": [0, 500, 1000], "format": "d", "title": "Time (ms)"}},
  "y": {"field": "v", "type": "quantitative", "scale": {"domain": [-0.09, 0.47], "nice": false, "zero": false}, "axis": {"values": [0, 0.2, 0.4], "title": "Sum (pA/pF)", "titleX": -46, "labelExpr": "(datum.value < 0 ? '-' : '') + format(abs(datum.value), '~g')"}},
  "color": {"field": "s", "type": "nominal", "scale": {"domain": ["Control", "T104I", "P197S"], "range": ["#000000", "#0072BD", "#D95319"]}, "legend": null}
 }}
]
}
],
"spacing": 10,
"resolve": {"scale": {"color": "independent"}, "legend": {"color": "independent"}}
},
{
"spacing": -4,
"resolve": {"scale": {"color": "independent"}, "legend": {"color": "independent"}},
"vconcat": [
{
"title": {"text": "C.", "anchor": "start", "fontSize": 26, "fontWeight": "bold", "frame": "bounds", "dy": 24},
"vconcat": [
{"width": 575, "height": 72, "data": {"name": "noise"},
 "title": {"text": "Physiological Noise Current", "fontSize": 17, "fontWeight": "bold", "anchor": "start", "frame": "group", "dx": -13, "offset": 1},
 "mark": {"type": "line", "clip": true, "strokeWidth": 0.7, "color": "#1a1a1a"},
 "encoding": {
  "x": {"field": "t", "type": "quantitative", "scale": {"domain": [-100, 3800], "nice": false}, "axis": {"values": [0, 500, 1000, 1500, 2000, 2500, 3000, 3500], "format": "d", "title": "Time (ms)"}},
  "y": {"field": "v", "type": "quantitative", "scale": {"domain": [-0.15, 0.16], "nice": false, "zero": false}, "axis": {"values": [-0.1, 0, 0.1], "title": "INoise (pA/pF)", "titleX": -50, "titleY": 46, "labelExpr": "(datum.value < 0 ? '-' : '') + format(abs(datum.value), '~g')"}}
 }}
]
},
{
"title": {"text": "D.", "anchor": "start", "fontSize": 26, "fontWeight": "bold", "frame": "bounds", "dy": 24},
"resolve": {"scale": {"color": "independent"}, "legend": {"color": "independent"}},
"vconcat": [
{"width": 575, "height": 109, "data": {"name": "d"},
 "title": {"text": "Cell #1 + Physiological Noise Current", "fontSize": 17, "fontWeight": "bold", "anchor": "start", "frame": "group", "dx": -13, "offset": -21},
 "mark": {"type": "line", "clip": true, "strokeWidth": 1.8, "interpolate": "monotone"},
 "encoding": {
  "x": {"field": "t", "type": "quantitative", "scale": {"domain": [-100, 3800], "nice": false}, "axis": {"values": [0, 500, 1000, 1500, 2000, 2500, 3000, 3500], "format": "d", "title": "Time (ms)"}},
  "y": {"field": "v", "type": "quantitative", "scale": {"domain": [-100, 50], "nice": false, "zero": false}, "axis": {"values": [-100, -50, 0, 50], "title": "Voltage (mV)", "titleX": -50, "labelExpr": "(datum.value < 0 ? '-' : '') + format(abs(datum.value), '~g')"}},
  "color": {"field": "s", "type": "nominal", "scale": {"domain": ["T104I", "P197S"], "range": ["#0072BD", "#D95319"]},
   "legend": {"orient": "none", "legendX": 502, "legendY": -35, "title": null, "symbolType": "M-2,0H2", "symbolSize": 56, "symbolStrokeWidth": 2, "rowPadding": 4, "labelOffset": 6, "labelFontSize": 12}}
 }}
]
},
{
"title": {"text": "E.", "anchor": "start", "fontSize": 26, "fontWeight": "bold", "frame": "bounds", "dy": 24},
"resolve": {"scale": {"color": "independent"}, "legend": {"color": "independent"}},
"vconcat": [
{"width": 575, "height": 107,
 "title": {"text": "Cell #2 + Physiological Noise Current", "fontSize": 17, "fontWeight": "bold", "anchor": "start", "frame": "group", "dx": -13, "offset": 8},
 "encoding": {
  "x": {"field": "t", "type": "quantitative", "scale": {"domain": [-100, 3800], "nice": false}, "axis": {"values": [0, 500, 1000, 1500, 2000, 2500, 3000, 3500], "format": "d", "title": "Time (ms)"}},
  "y": {"field": "v", "type": "quantitative", "scale": {"domain": [-100, 50], "nice": false, "zero": false}, "axis": {"values": [-100, -50, 0, 50], "title": "Voltage (mV)", "titleX": -50, "labelExpr": "(datum.value < 0 ? '-' : '') + format(abs(datum.value), '~g')"}}
 },
 "layer": [
 {"data": {"name": "e"},
  "mark": {"type": "line", "clip": true, "strokeWidth": 1.8, "interpolate": "monotone"},
  "encoding": {
   "color": {"field": "s", "type": "nominal", "scale": {"domain": ["T104I", "P197S"], "range": ["#0072BD", "#D95319"]}, "legend": null}
  }},
 {"data": {"name": "stars"},
  "mark": {"type": "text", "fontSize": 24, "fontWeight": "bold", "color": "#EE7D31", "baseline": "middle", "align": "center"},
  "encoding": {
   "text": {"field": "label"}
  }}
 ]}
]
}
]
}
]
}
